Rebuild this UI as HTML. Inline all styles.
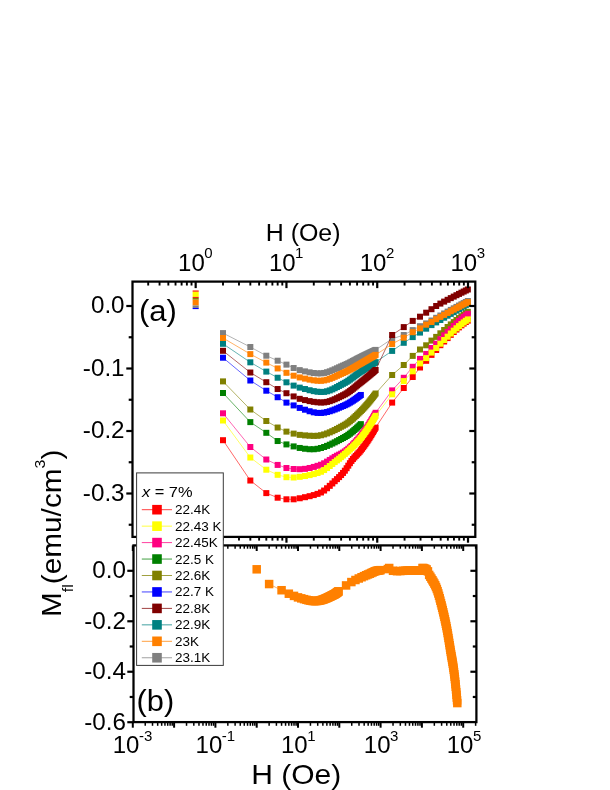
<!DOCTYPE html>
<html><head><meta charset="utf-8"><title>M_fl vs H</title>
<style>html,body{margin:0;padding:0;background:#fff;}svg{display:block;will-change:transform;}</style></head>
<body>
<svg width="610" height="790" viewBox="0 0 610 790">
<rect x="0" y="0" width="610" height="790" fill="#ffffff"/>
<g id="dataA">
<polyline points="223.0,357.7 250.3,380.5 266.3,390.7 277.7,397.2 286.4,402.6 293.6,405.4 299.7,407.9 305.0,409.7 309.6,411.2 313.8,412.3 317.5,412.9 321.0,413.0 324.1,412.6 327.0,412.0 329.8,411.3 332.3,410.4 334.7,409.5 337.0,408.6 339.1,407.7 341.1,406.8 343.0,406.0 344.9,405.2 346.6,404.4 348.3,403.5 349.9,402.6 351.4,401.6 352.9,400.7 354.4,399.7 355.8,398.7 357.1,397.8 358.4,396.8 359.6,395.9 360.8,395.0" fill="none" stroke="#0000ff" stroke-width="0.6"/>
<rect x="220.00" y="354.70" width="6.0" height="6.0" fill="#0000ff"/>
<rect x="247.33" y="377.52" width="6.0" height="6.0" fill="#0000ff"/>
<rect x="263.31" y="387.71" width="6.0" height="6.0" fill="#0000ff"/>
<rect x="274.65" y="394.23" width="6.0" height="6.0" fill="#0000ff"/>
<rect x="283.45" y="399.62" width="6.0" height="6.0" fill="#0000ff"/>
<rect x="290.64" y="402.42" width="6.0" height="6.0" fill="#0000ff"/>
<rect x="296.72" y="404.91" width="6.0" height="6.0" fill="#0000ff"/>
<rect x="301.98" y="406.71" width="6.0" height="6.0" fill="#0000ff"/>
<rect x="306.62" y="408.25" width="6.0" height="6.0" fill="#0000ff"/>
<rect x="310.78" y="409.33" width="6.0" height="6.0" fill="#0000ff"/>
<rect x="314.54" y="409.91" width="6.0" height="6.0" fill="#0000ff"/>
<rect x="317.97" y="409.96" width="6.0" height="6.0" fill="#0000ff"/>
<rect x="321.12" y="409.62" width="6.0" height="6.0" fill="#0000ff"/>
<rect x="324.04" y="409.01" width="6.0" height="6.0" fill="#0000ff"/>
<rect x="326.76" y="408.25" width="6.0" height="6.0" fill="#0000ff"/>
<rect x="329.31" y="407.40" width="6.0" height="6.0" fill="#0000ff"/>
<rect x="331.70" y="406.50" width="6.0" height="6.0" fill="#0000ff"/>
<rect x="333.95" y="405.59" width="6.0" height="6.0" fill="#0000ff"/>
<rect x="336.08" y="404.69" width="6.0" height="6.0" fill="#0000ff"/>
<rect x="338.11" y="403.83" width="6.0" height="6.0" fill="#0000ff"/>
<rect x="340.03" y="403.01" width="6.0" height="6.0" fill="#0000ff"/>
<rect x="341.86" y="402.23" width="6.0" height="6.0" fill="#0000ff"/>
<rect x="343.62" y="401.39" width="6.0" height="6.0" fill="#0000ff"/>
<rect x="345.29" y="400.51" width="6.0" height="6.0" fill="#0000ff"/>
<rect x="346.90" y="399.58" width="6.0" height="6.0" fill="#0000ff"/>
<rect x="348.45" y="398.64" width="6.0" height="6.0" fill="#0000ff"/>
<rect x="349.94" y="397.67" width="6.0" height="6.0" fill="#0000ff"/>
<rect x="351.37" y="396.71" width="6.0" height="6.0" fill="#0000ff"/>
<rect x="352.75" y="395.74" width="6.0" height="6.0" fill="#0000ff"/>
<rect x="354.09" y="394.78" width="6.0" height="6.0" fill="#0000ff"/>
<rect x="355.38" y="393.82" width="6.0" height="6.0" fill="#0000ff"/>
<rect x="356.64" y="392.89" width="6.0" height="6.0" fill="#0000ff"/>
<rect x="357.85" y="391.96" width="6.0" height="6.0" fill="#0000ff"/>
<polyline points="223.0,393.0 250.3,422.1 266.3,432.8 277.7,441.0 286.4,444.4 293.6,446.4 299.7,448.0 305.0,448.8 309.6,449.2 313.8,449.2 317.5,448.8 321.0,448.0 324.1,447.0 327.0,445.9 329.8,444.7 332.3,443.5 334.7,442.4 337.0,441.2 339.1,440.1 341.1,439.0 343.0,438.0 344.9,437.0 346.6,436.0 348.3,434.9 349.9,433.7 351.4,432.5 352.9,431.3 354.4,430.1 355.8,428.8 357.1,427.6 358.4,426.5 359.6,425.3 360.8,424.2" fill="none" stroke="#008000" stroke-width="0.6"/>
<rect x="220.00" y="390.00" width="6.0" height="6.0" fill="#008000"/>
<rect x="247.33" y="419.12" width="6.0" height="6.0" fill="#008000"/>
<rect x="263.31" y="429.81" width="6.0" height="6.0" fill="#008000"/>
<rect x="274.65" y="438.03" width="6.0" height="6.0" fill="#008000"/>
<rect x="283.45" y="441.42" width="6.0" height="6.0" fill="#008000"/>
<rect x="290.64" y="443.41" width="6.0" height="6.0" fill="#008000"/>
<rect x="296.72" y="444.95" width="6.0" height="6.0" fill="#008000"/>
<rect x="301.98" y="445.75" width="6.0" height="6.0" fill="#008000"/>
<rect x="306.62" y="446.23" width="6.0" height="6.0" fill="#008000"/>
<rect x="310.78" y="446.24" width="6.0" height="6.0" fill="#008000"/>
<rect x="314.54" y="445.78" width="6.0" height="6.0" fill="#008000"/>
<rect x="317.97" y="444.99" width="6.0" height="6.0" fill="#008000"/>
<rect x="321.12" y="443.99" width="6.0" height="6.0" fill="#008000"/>
<rect x="324.04" y="442.89" width="6.0" height="6.0" fill="#008000"/>
<rect x="326.76" y="441.72" width="6.0" height="6.0" fill="#008000"/>
<rect x="329.31" y="440.54" width="6.0" height="6.0" fill="#008000"/>
<rect x="331.70" y="439.36" width="6.0" height="6.0" fill="#008000"/>
<rect x="333.95" y="438.21" width="6.0" height="6.0" fill="#008000"/>
<rect x="336.08" y="437.09" width="6.0" height="6.0" fill="#008000"/>
<rect x="338.11" y="436.02" width="6.0" height="6.0" fill="#008000"/>
<rect x="340.03" y="435.01" width="6.0" height="6.0" fill="#008000"/>
<rect x="341.86" y="434.03" width="6.0" height="6.0" fill="#008000"/>
<rect x="343.62" y="432.98" width="6.0" height="6.0" fill="#008000"/>
<rect x="345.29" y="431.86" width="6.0" height="6.0" fill="#008000"/>
<rect x="346.90" y="430.69" width="6.0" height="6.0" fill="#008000"/>
<rect x="348.45" y="429.49" width="6.0" height="6.0" fill="#008000"/>
<rect x="349.94" y="428.28" width="6.0" height="6.0" fill="#008000"/>
<rect x="351.37" y="427.05" width="6.0" height="6.0" fill="#008000"/>
<rect x="352.75" y="425.84" width="6.0" height="6.0" fill="#008000"/>
<rect x="354.09" y="424.64" width="6.0" height="6.0" fill="#008000"/>
<rect x="355.38" y="423.45" width="6.0" height="6.0" fill="#008000"/>
<rect x="356.64" y="422.29" width="6.0" height="6.0" fill="#008000"/>
<rect x="357.85" y="421.15" width="6.0" height="6.0" fill="#008000"/>
<polyline points="223.0,381.4 250.3,409.5 266.3,421.0 277.7,427.5 286.4,431.6 293.6,433.6 299.7,434.9 305.0,435.4 309.6,435.7 313.8,435.9 317.5,435.8 321.0,435.2 324.1,434.4 327.0,433.4 329.8,432.4 332.3,431.2 334.7,430.1 337.0,428.9 339.1,427.8 341.1,426.7 343.0,425.7 344.9,424.7 346.6,423.6 348.3,422.4 349.9,421.2 351.4,419.9 352.9,418.6 354.4,417.3 355.8,416.0 357.1,414.7 358.4,413.5 359.6,412.2 360.8,411.1 362.0,409.9 363.2,408.7 364.3,407.5 365.4,406.3 366.4,405.1 367.4,403.9 368.4,402.7 369.4,401.5 370.4,400.3 371.3,399.2 372.2,398.0 373.1,396.9 373.9,395.7 374.8,394.6 375.6,393.5 392.1,375.0 403.8,365.0 412.7,355.9 420.0,349.5 426.2,345.3 431.5,340.6 436.2,336.9 440.4,333.3 444.2,330.0 447.6,327.0 450.8,324.4 453.7,322.1 456.5,320.0 459.0,318.1 461.4,316.3 463.7,314.7 465.8,313.2 467.9,311.8" fill="none" stroke="#808000" stroke-width="0.6"/>
<rect x="220.00" y="378.40" width="6.0" height="6.0" fill="#808000"/>
<rect x="247.33" y="406.52" width="6.0" height="6.0" fill="#808000"/>
<rect x="263.31" y="418.01" width="6.0" height="6.0" fill="#808000"/>
<rect x="274.65" y="424.53" width="6.0" height="6.0" fill="#808000"/>
<rect x="283.45" y="428.62" width="6.0" height="6.0" fill="#808000"/>
<rect x="290.64" y="430.61" width="6.0" height="6.0" fill="#808000"/>
<rect x="296.72" y="431.87" width="6.0" height="6.0" fill="#808000"/>
<rect x="301.98" y="432.40" width="6.0" height="6.0" fill="#808000"/>
<rect x="306.62" y="432.74" width="6.0" height="6.0" fill="#808000"/>
<rect x="310.78" y="432.89" width="6.0" height="6.0" fill="#808000"/>
<rect x="314.54" y="432.78" width="6.0" height="6.0" fill="#808000"/>
<rect x="317.97" y="432.25" width="6.0" height="6.0" fill="#808000"/>
<rect x="321.12" y="431.43" width="6.0" height="6.0" fill="#808000"/>
<rect x="324.04" y="430.45" width="6.0" height="6.0" fill="#808000"/>
<rect x="326.76" y="429.36" width="6.0" height="6.0" fill="#808000"/>
<rect x="329.31" y="428.23" width="6.0" height="6.0" fill="#808000"/>
<rect x="331.70" y="427.08" width="6.0" height="6.0" fill="#808000"/>
<rect x="333.95" y="425.93" width="6.0" height="6.0" fill="#808000"/>
<rect x="336.08" y="424.82" width="6.0" height="6.0" fill="#808000"/>
<rect x="338.11" y="423.74" width="6.0" height="6.0" fill="#808000"/>
<rect x="340.03" y="422.72" width="6.0" height="6.0" fill="#808000"/>
<rect x="341.86" y="421.72" width="6.0" height="6.0" fill="#808000"/>
<rect x="343.62" y="420.63" width="6.0" height="6.0" fill="#808000"/>
<rect x="345.29" y="419.45" width="6.0" height="6.0" fill="#808000"/>
<rect x="346.90" y="418.21" width="6.0" height="6.0" fill="#808000"/>
<rect x="348.45" y="416.93" width="6.0" height="6.0" fill="#808000"/>
<rect x="349.94" y="415.63" width="6.0" height="6.0" fill="#808000"/>
<rect x="351.37" y="414.32" width="6.0" height="6.0" fill="#808000"/>
<rect x="352.75" y="413.02" width="6.0" height="6.0" fill="#808000"/>
<rect x="354.09" y="411.74" width="6.0" height="6.0" fill="#808000"/>
<rect x="355.38" y="410.48" width="6.0" height="6.0" fill="#808000"/>
<rect x="356.64" y="409.25" width="6.0" height="6.0" fill="#808000"/>
<rect x="357.85" y="408.05" width="6.0" height="6.0" fill="#808000"/>
<rect x="359.03" y="406.87" width="6.0" height="6.0" fill="#808000"/>
<rect x="360.17" y="405.67" width="6.0" height="6.0" fill="#808000"/>
<rect x="361.28" y="404.47" width="6.0" height="6.0" fill="#808000"/>
<rect x="362.36" y="403.28" width="6.0" height="6.0" fill="#808000"/>
<rect x="363.41" y="402.08" width="6.0" height="6.0" fill="#808000"/>
<rect x="364.43" y="400.89" width="6.0" height="6.0" fill="#808000"/>
<rect x="365.43" y="399.70" width="6.0" height="6.0" fill="#808000"/>
<rect x="366.41" y="398.52" width="6.0" height="6.0" fill="#808000"/>
<rect x="367.36" y="397.35" width="6.0" height="6.0" fill="#808000"/>
<rect x="368.28" y="396.18" width="6.0" height="6.0" fill="#808000"/>
<rect x="369.19" y="395.02" width="6.0" height="6.0" fill="#808000"/>
<rect x="370.08" y="393.88" width="6.0" height="6.0" fill="#808000"/>
<rect x="370.94" y="392.74" width="6.0" height="6.0" fill="#808000"/>
<rect x="371.79" y="391.62" width="6.0" height="6.0" fill="#808000"/>
<rect x="372.62" y="390.50" width="6.0" height="6.0" fill="#808000"/>
<rect x="389.15" y="372.00" width="6.0" height="6.0" fill="#808000"/>
<rect x="400.76" y="362.00" width="6.0" height="6.0" fill="#808000"/>
<rect x="409.72" y="352.90" width="6.0" height="6.0" fill="#808000"/>
<rect x="417.01" y="346.50" width="6.0" height="6.0" fill="#808000"/>
<rect x="423.17" y="342.30" width="6.0" height="6.0" fill="#808000"/>
<rect x="428.49" y="337.60" width="6.0" height="6.0" fill="#808000"/>
<rect x="433.18" y="333.90" width="6.0" height="6.0" fill="#808000"/>
<rect x="437.37" y="330.30" width="6.0" height="6.0" fill="#808000"/>
<rect x="441.15" y="327.00" width="6.0" height="6.0" fill="#808000"/>
<rect x="444.61" y="324.00" width="6.0" height="6.0" fill="#808000"/>
<rect x="447.78" y="321.40" width="6.0" height="6.0" fill="#808000"/>
<rect x="450.72" y="319.11" width="6.0" height="6.0" fill="#808000"/>
<rect x="453.46" y="317.01" width="6.0" height="6.0" fill="#808000"/>
<rect x="456.01" y="315.08" width="6.0" height="6.0" fill="#808000"/>
<rect x="458.42" y="313.31" width="6.0" height="6.0" fill="#808000"/>
<rect x="460.68" y="311.68" width="6.0" height="6.0" fill="#808000"/>
<rect x="462.82" y="310.18" width="6.0" height="6.0" fill="#808000"/>
<rect x="464.85" y="308.80" width="6.0" height="6.0" fill="#808000"/>
<polyline points="223.0,343.8 250.3,362.3 266.3,371.6 277.7,377.7 286.4,382.3 293.6,385.6 299.7,387.6 305.0,389.0 309.6,390.2 313.8,391.1 317.5,391.7 321.0,392.0 324.1,391.9 327.0,391.3 329.8,390.4 332.3,389.4 334.7,388.2 337.0,387.1 339.1,385.9 341.1,384.8 343.0,383.8 344.9,382.8 346.6,381.8 348.3,380.7 349.9,379.6 351.4,378.5 352.9,377.4 354.4,376.3 355.8,375.3 357.1,374.3 358.4,373.3 359.6,372.5 360.8,371.6 362.0,370.9 363.2,370.1 364.3,369.4 365.4,368.7 366.4,368.0 367.4,367.3 368.4,366.7 369.4,366.1 370.4,365.5 371.3,364.9 372.2,364.3 373.1,363.7 373.9,363.2 374.8,362.7 375.6,362.2 392.1,350.9 403.8,342.8 412.7,337.1 420.0,332.6 426.2,328.7 431.5,325.1 436.2,322.4 440.4,320.0 444.2,317.7 447.6,315.7 450.8,313.9 453.7,312.2 456.5,310.6 459.0,309.1 461.4,307.6 463.7,306.3 465.8,305.0 467.9,303.7" fill="none" stroke="#008080" stroke-width="0.6"/>
<rect x="220.00" y="340.80" width="6.0" height="6.0" fill="#008080"/>
<rect x="247.33" y="359.32" width="6.0" height="6.0" fill="#008080"/>
<rect x="263.31" y="368.61" width="6.0" height="6.0" fill="#008080"/>
<rect x="274.65" y="374.73" width="6.0" height="6.0" fill="#008080"/>
<rect x="283.45" y="379.32" width="6.0" height="6.0" fill="#008080"/>
<rect x="290.64" y="382.61" width="6.0" height="6.0" fill="#008080"/>
<rect x="296.72" y="384.63" width="6.0" height="6.0" fill="#008080"/>
<rect x="301.98" y="386.03" width="6.0" height="6.0" fill="#008080"/>
<rect x="306.62" y="387.23" width="6.0" height="6.0" fill="#008080"/>
<rect x="310.78" y="388.14" width="6.0" height="6.0" fill="#008080"/>
<rect x="314.54" y="388.73" width="6.0" height="6.0" fill="#008080"/>
<rect x="317.97" y="388.98" width="6.0" height="6.0" fill="#008080"/>
<rect x="321.12" y="388.87" width="6.0" height="6.0" fill="#008080"/>
<rect x="324.04" y="388.29" width="6.0" height="6.0" fill="#008080"/>
<rect x="326.76" y="387.42" width="6.0" height="6.0" fill="#008080"/>
<rect x="329.31" y="386.37" width="6.0" height="6.0" fill="#008080"/>
<rect x="331.70" y="385.23" width="6.0" height="6.0" fill="#008080"/>
<rect x="333.95" y="384.07" width="6.0" height="6.0" fill="#008080"/>
<rect x="336.08" y="382.92" width="6.0" height="6.0" fill="#008080"/>
<rect x="338.11" y="381.83" width="6.0" height="6.0" fill="#008080"/>
<rect x="340.03" y="380.80" width="6.0" height="6.0" fill="#008080"/>
<rect x="341.86" y="379.84" width="6.0" height="6.0" fill="#008080"/>
<rect x="343.62" y="378.82" width="6.0" height="6.0" fill="#008080"/>
<rect x="345.29" y="377.74" width="6.0" height="6.0" fill="#008080"/>
<rect x="346.90" y="376.62" width="6.0" height="6.0" fill="#008080"/>
<rect x="348.45" y="375.50" width="6.0" height="6.0" fill="#008080"/>
<rect x="349.94" y="374.40" width="6.0" height="6.0" fill="#008080"/>
<rect x="351.37" y="373.32" width="6.0" height="6.0" fill="#008080"/>
<rect x="352.75" y="372.27" width="6.0" height="6.0" fill="#008080"/>
<rect x="354.09" y="371.28" width="6.0" height="6.0" fill="#008080"/>
<rect x="355.38" y="370.34" width="6.0" height="6.0" fill="#008080"/>
<rect x="356.64" y="369.46" width="6.0" height="6.0" fill="#008080"/>
<rect x="357.85" y="368.63" width="6.0" height="6.0" fill="#008080"/>
<rect x="359.03" y="367.85" width="6.0" height="6.0" fill="#008080"/>
<rect x="360.17" y="367.10" width="6.0" height="6.0" fill="#008080"/>
<rect x="361.28" y="366.37" width="6.0" height="6.0" fill="#008080"/>
<rect x="362.36" y="365.67" width="6.0" height="6.0" fill="#008080"/>
<rect x="363.41" y="364.99" width="6.0" height="6.0" fill="#008080"/>
<rect x="364.43" y="364.32" width="6.0" height="6.0" fill="#008080"/>
<rect x="365.43" y="363.68" width="6.0" height="6.0" fill="#008080"/>
<rect x="366.41" y="363.06" width="6.0" height="6.0" fill="#008080"/>
<rect x="367.36" y="362.46" width="6.0" height="6.0" fill="#008080"/>
<rect x="368.28" y="361.87" width="6.0" height="6.0" fill="#008080"/>
<rect x="369.19" y="361.30" width="6.0" height="6.0" fill="#008080"/>
<rect x="370.08" y="360.74" width="6.0" height="6.0" fill="#008080"/>
<rect x="370.94" y="360.20" width="6.0" height="6.0" fill="#008080"/>
<rect x="371.79" y="359.68" width="6.0" height="6.0" fill="#008080"/>
<rect x="372.62" y="359.16" width="6.0" height="6.0" fill="#008080"/>
<rect x="389.15" y="347.90" width="6.0" height="6.0" fill="#008080"/>
<rect x="400.76" y="339.80" width="6.0" height="6.0" fill="#008080"/>
<rect x="409.72" y="334.10" width="6.0" height="6.0" fill="#008080"/>
<rect x="417.01" y="329.60" width="6.0" height="6.0" fill="#008080"/>
<rect x="423.17" y="325.70" width="6.0" height="6.0" fill="#008080"/>
<rect x="428.49" y="322.10" width="6.0" height="6.0" fill="#008080"/>
<rect x="433.18" y="319.40" width="6.0" height="6.0" fill="#008080"/>
<rect x="437.37" y="317.00" width="6.0" height="6.0" fill="#008080"/>
<rect x="441.15" y="314.70" width="6.0" height="6.0" fill="#008080"/>
<rect x="444.61" y="312.70" width="6.0" height="6.0" fill="#008080"/>
<rect x="447.78" y="310.90" width="6.0" height="6.0" fill="#008080"/>
<rect x="450.72" y="309.19" width="6.0" height="6.0" fill="#008080"/>
<rect x="453.46" y="307.59" width="6.0" height="6.0" fill="#008080"/>
<rect x="456.01" y="306.08" width="6.0" height="6.0" fill="#008080"/>
<rect x="458.42" y="304.64" width="6.0" height="6.0" fill="#008080"/>
<rect x="460.68" y="303.27" width="6.0" height="6.0" fill="#008080"/>
<rect x="462.82" y="301.96" width="6.0" height="6.0" fill="#008080"/>
<rect x="464.85" y="300.70" width="6.0" height="6.0" fill="#008080"/>
<polyline points="223.0,333.1 250.3,347.0 266.3,355.7 277.7,360.7 286.4,364.6 293.6,368.0 299.7,370.1 305.0,371.4 309.6,372.3 313.8,373.0 317.5,373.3 321.0,373.4 324.1,372.9 327.0,372.2 329.8,371.3 332.3,370.3 334.7,369.3 337.0,368.3 339.1,367.3 341.1,366.4 343.0,365.6 344.9,364.8 346.6,364.1 348.3,363.3 349.9,362.5 351.4,361.7 352.9,360.9 354.4,360.2 355.8,359.5 357.1,358.8 358.4,358.1 359.6,357.5 360.8,356.9 362.0,356.3 363.2,355.8 364.3,355.2 365.4,354.7 366.4,354.2 367.4,353.7 368.4,353.3 369.4,352.8 370.4,352.4 371.3,351.9 372.2,351.5 373.1,351.1 373.9,350.7 374.8,350.3 375.6,349.9 392.1,338.8 403.8,335.0 412.7,330.1 420.0,326.2 426.2,323.4 431.5,320.5 436.2,317.8 440.4,315.5 444.2,313.5 447.6,311.6 450.8,309.9 453.7,308.3 456.5,306.9 459.0,305.5 461.4,304.3 463.7,303.1 465.8,302.0 467.9,301.0" fill="none" stroke="#808080" stroke-width="0.6"/>
<rect x="220.00" y="330.10" width="6.0" height="6.0" fill="#808080"/>
<rect x="247.33" y="344.01" width="6.0" height="6.0" fill="#808080"/>
<rect x="263.31" y="352.71" width="6.0" height="6.0" fill="#808080"/>
<rect x="274.65" y="357.72" width="6.0" height="6.0" fill="#808080"/>
<rect x="283.45" y="361.62" width="6.0" height="6.0" fill="#808080"/>
<rect x="290.64" y="365.02" width="6.0" height="6.0" fill="#808080"/>
<rect x="296.72" y="367.13" width="6.0" height="6.0" fill="#808080"/>
<rect x="301.98" y="368.37" width="6.0" height="6.0" fill="#808080"/>
<rect x="306.62" y="369.34" width="6.0" height="6.0" fill="#808080"/>
<rect x="310.78" y="370.01" width="6.0" height="6.0" fill="#808080"/>
<rect x="314.54" y="370.35" width="6.0" height="6.0" fill="#808080"/>
<rect x="317.97" y="370.36" width="6.0" height="6.0" fill="#808080"/>
<rect x="321.12" y="369.94" width="6.0" height="6.0" fill="#808080"/>
<rect x="324.04" y="369.22" width="6.0" height="6.0" fill="#808080"/>
<rect x="326.76" y="368.32" width="6.0" height="6.0" fill="#808080"/>
<rect x="329.31" y="367.33" width="6.0" height="6.0" fill="#808080"/>
<rect x="331.70" y="366.31" width="6.0" height="6.0" fill="#808080"/>
<rect x="333.95" y="365.30" width="6.0" height="6.0" fill="#808080"/>
<rect x="336.08" y="364.33" width="6.0" height="6.0" fill="#808080"/>
<rect x="338.11" y="363.43" width="6.0" height="6.0" fill="#808080"/>
<rect x="340.03" y="362.60" width="6.0" height="6.0" fill="#808080"/>
<rect x="341.86" y="361.84" width="6.0" height="6.0" fill="#808080"/>
<rect x="343.62" y="361.07" width="6.0" height="6.0" fill="#808080"/>
<rect x="345.29" y="360.28" width="6.0" height="6.0" fill="#808080"/>
<rect x="346.90" y="359.49" width="6.0" height="6.0" fill="#808080"/>
<rect x="348.45" y="358.70" width="6.0" height="6.0" fill="#808080"/>
<rect x="349.94" y="357.93" width="6.0" height="6.0" fill="#808080"/>
<rect x="351.37" y="357.18" width="6.0" height="6.0" fill="#808080"/>
<rect x="352.75" y="356.46" width="6.0" height="6.0" fill="#808080"/>
<rect x="354.09" y="355.76" width="6.0" height="6.0" fill="#808080"/>
<rect x="355.38" y="355.10" width="6.0" height="6.0" fill="#808080"/>
<rect x="356.64" y="354.47" width="6.0" height="6.0" fill="#808080"/>
<rect x="357.85" y="353.88" width="6.0" height="6.0" fill="#808080"/>
<rect x="359.03" y="353.31" width="6.0" height="6.0" fill="#808080"/>
<rect x="360.17" y="352.76" width="6.0" height="6.0" fill="#808080"/>
<rect x="361.28" y="352.23" width="6.0" height="6.0" fill="#808080"/>
<rect x="362.36" y="351.72" width="6.0" height="6.0" fill="#808080"/>
<rect x="363.41" y="351.22" width="6.0" height="6.0" fill="#808080"/>
<rect x="364.43" y="350.73" width="6.0" height="6.0" fill="#808080"/>
<rect x="365.43" y="350.26" width="6.0" height="6.0" fill="#808080"/>
<rect x="366.41" y="349.80" width="6.0" height="6.0" fill="#808080"/>
<rect x="367.36" y="349.35" width="6.0" height="6.0" fill="#808080"/>
<rect x="368.28" y="348.92" width="6.0" height="6.0" fill="#808080"/>
<rect x="369.19" y="348.49" width="6.0" height="6.0" fill="#808080"/>
<rect x="370.08" y="348.08" width="6.0" height="6.0" fill="#808080"/>
<rect x="370.94" y="347.68" width="6.0" height="6.0" fill="#808080"/>
<rect x="371.79" y="347.28" width="6.0" height="6.0" fill="#808080"/>
<rect x="372.62" y="346.90" width="6.0" height="6.0" fill="#808080"/>
<rect x="389.15" y="335.80" width="6.0" height="6.0" fill="#808080"/>
<rect x="400.76" y="332.00" width="6.0" height="6.0" fill="#808080"/>
<rect x="409.72" y="327.10" width="6.0" height="6.0" fill="#808080"/>
<rect x="417.01" y="323.20" width="6.0" height="6.0" fill="#808080"/>
<rect x="423.17" y="320.40" width="6.0" height="6.0" fill="#808080"/>
<rect x="428.49" y="317.50" width="6.0" height="6.0" fill="#808080"/>
<rect x="433.18" y="314.80" width="6.0" height="6.0" fill="#808080"/>
<rect x="437.37" y="312.50" width="6.0" height="6.0" fill="#808080"/>
<rect x="441.15" y="310.50" width="6.0" height="6.0" fill="#808080"/>
<rect x="444.61" y="308.60" width="6.0" height="6.0" fill="#808080"/>
<rect x="447.78" y="306.89" width="6.0" height="6.0" fill="#808080"/>
<rect x="450.72" y="305.32" width="6.0" height="6.0" fill="#808080"/>
<rect x="453.46" y="303.87" width="6.0" height="6.0" fill="#808080"/>
<rect x="456.01" y="302.53" width="6.0" height="6.0" fill="#808080"/>
<rect x="458.42" y="301.28" width="6.0" height="6.0" fill="#808080"/>
<rect x="460.68" y="300.11" width="6.0" height="6.0" fill="#808080"/>
<rect x="462.82" y="299.02" width="6.0" height="6.0" fill="#808080"/>
<rect x="464.85" y="298.00" width="6.0" height="6.0" fill="#808080"/>
<polyline points="223.0,350.8 250.3,372.5 266.3,382.2 277.7,389.0 286.4,393.2 293.6,396.4 299.7,398.8 305.0,400.1 309.6,401.1 313.8,401.8 317.5,402.3 321.0,402.5 324.1,402.4 327.0,401.9 329.8,401.2 332.3,400.3 334.7,399.3 337.0,398.2 339.1,397.2 341.1,396.2 343.0,395.3 344.9,394.4 346.6,393.4 348.3,392.3 349.9,391.1 351.4,389.9 352.9,388.8 354.4,387.6 355.8,386.5 357.1,385.3 358.4,384.3 359.6,383.3 360.8,382.3 362.0,381.4 363.2,380.5 364.3,379.6 365.4,378.7 366.4,377.8 367.4,377.0 368.4,376.2 369.4,375.3 370.4,374.5 371.3,373.8 372.2,373.0 373.1,372.2 373.9,371.5 374.8,370.7 375.6,370.0 392.1,335.0 403.8,327.1 412.7,320.9 420.0,316.7 426.2,312.7 431.5,309.2 436.2,306.0 440.4,303.6 444.2,301.6 447.6,299.8 450.8,298.1 453.7,296.6 456.5,295.2 459.0,293.9 461.4,292.7 463.7,291.6 465.8,290.5 467.9,289.5" fill="none" stroke="#800000" stroke-width="0.6"/>
<rect x="220.00" y="347.80" width="6.0" height="6.0" fill="#800000"/>
<rect x="247.33" y="369.52" width="6.0" height="6.0" fill="#800000"/>
<rect x="263.31" y="379.21" width="6.0" height="6.0" fill="#800000"/>
<rect x="274.65" y="386.03" width="6.0" height="6.0" fill="#800000"/>
<rect x="283.45" y="390.22" width="6.0" height="6.0" fill="#800000"/>
<rect x="290.64" y="393.42" width="6.0" height="6.0" fill="#800000"/>
<rect x="296.72" y="395.83" width="6.0" height="6.0" fill="#800000"/>
<rect x="301.98" y="397.11" width="6.0" height="6.0" fill="#800000"/>
<rect x="306.62" y="398.12" width="6.0" height="6.0" fill="#800000"/>
<rect x="310.78" y="398.85" width="6.0" height="6.0" fill="#800000"/>
<rect x="314.54" y="399.30" width="6.0" height="6.0" fill="#800000"/>
<rect x="317.97" y="399.49" width="6.0" height="6.0" fill="#800000"/>
<rect x="321.12" y="399.39" width="6.0" height="6.0" fill="#800000"/>
<rect x="324.04" y="398.90" width="6.0" height="6.0" fill="#800000"/>
<rect x="326.76" y="398.16" width="6.0" height="6.0" fill="#800000"/>
<rect x="329.31" y="397.25" width="6.0" height="6.0" fill="#800000"/>
<rect x="331.70" y="396.26" width="6.0" height="6.0" fill="#800000"/>
<rect x="333.95" y="395.24" width="6.0" height="6.0" fill="#800000"/>
<rect x="336.08" y="394.22" width="6.0" height="6.0" fill="#800000"/>
<rect x="338.11" y="393.22" width="6.0" height="6.0" fill="#800000"/>
<rect x="340.03" y="392.27" width="6.0" height="6.0" fill="#800000"/>
<rect x="341.86" y="391.36" width="6.0" height="6.0" fill="#800000"/>
<rect x="343.62" y="390.36" width="6.0" height="6.0" fill="#800000"/>
<rect x="345.29" y="389.26" width="6.0" height="6.0" fill="#800000"/>
<rect x="346.90" y="388.12" width="6.0" height="6.0" fill="#800000"/>
<rect x="348.45" y="386.94" width="6.0" height="6.0" fill="#800000"/>
<rect x="349.94" y="385.76" width="6.0" height="6.0" fill="#800000"/>
<rect x="351.37" y="384.60" width="6.0" height="6.0" fill="#800000"/>
<rect x="352.75" y="383.45" width="6.0" height="6.0" fill="#800000"/>
<rect x="354.09" y="382.35" width="6.0" height="6.0" fill="#800000"/>
<rect x="355.38" y="381.28" width="6.0" height="6.0" fill="#800000"/>
<rect x="356.64" y="380.27" width="6.0" height="6.0" fill="#800000"/>
<rect x="357.85" y="379.31" width="6.0" height="6.0" fill="#800000"/>
<rect x="359.03" y="378.38" width="6.0" height="6.0" fill="#800000"/>
<rect x="360.17" y="377.46" width="6.0" height="6.0" fill="#800000"/>
<rect x="361.28" y="376.57" width="6.0" height="6.0" fill="#800000"/>
<rect x="362.36" y="375.69" width="6.0" height="6.0" fill="#800000"/>
<rect x="363.41" y="374.83" width="6.0" height="6.0" fill="#800000"/>
<rect x="364.43" y="373.98" width="6.0" height="6.0" fill="#800000"/>
<rect x="365.43" y="373.15" width="6.0" height="6.0" fill="#800000"/>
<rect x="366.41" y="372.34" width="6.0" height="6.0" fill="#800000"/>
<rect x="367.36" y="371.54" width="6.0" height="6.0" fill="#800000"/>
<rect x="368.28" y="370.75" width="6.0" height="6.0" fill="#800000"/>
<rect x="369.19" y="369.98" width="6.0" height="6.0" fill="#800000"/>
<rect x="370.08" y="369.22" width="6.0" height="6.0" fill="#800000"/>
<rect x="370.94" y="368.47" width="6.0" height="6.0" fill="#800000"/>
<rect x="371.79" y="367.73" width="6.0" height="6.0" fill="#800000"/>
<rect x="372.62" y="367.01" width="6.0" height="6.0" fill="#800000"/>
<rect x="389.15" y="332.00" width="6.0" height="6.0" fill="#800000"/>
<rect x="400.76" y="324.10" width="6.0" height="6.0" fill="#800000"/>
<rect x="409.72" y="317.90" width="6.0" height="6.0" fill="#800000"/>
<rect x="417.01" y="313.70" width="6.0" height="6.0" fill="#800000"/>
<rect x="423.17" y="309.70" width="6.0" height="6.0" fill="#800000"/>
<rect x="428.49" y="306.20" width="6.0" height="6.0" fill="#800000"/>
<rect x="433.18" y="303.00" width="6.0" height="6.0" fill="#800000"/>
<rect x="437.37" y="300.59" width="6.0" height="6.0" fill="#800000"/>
<rect x="441.15" y="298.59" width="6.0" height="6.0" fill="#800000"/>
<rect x="444.61" y="296.80" width="6.0" height="6.0" fill="#800000"/>
<rect x="447.78" y="295.13" width="6.0" height="6.0" fill="#800000"/>
<rect x="450.72" y="293.61" width="6.0" height="6.0" fill="#800000"/>
<rect x="453.46" y="292.20" width="6.0" height="6.0" fill="#800000"/>
<rect x="456.01" y="290.90" width="6.0" height="6.0" fill="#800000"/>
<rect x="458.42" y="289.68" width="6.0" height="6.0" fill="#800000"/>
<rect x="460.68" y="288.55" width="6.0" height="6.0" fill="#800000"/>
<rect x="462.82" y="287.49" width="6.0" height="6.0" fill="#800000"/>
<rect x="464.85" y="286.50" width="6.0" height="6.0" fill="#800000"/>
<polyline points="223.0,338.0 250.3,354.1 266.3,362.6 277.7,368.4 286.4,372.8 293.6,375.7 299.7,377.4 305.0,378.6 309.6,379.6 313.8,380.3 317.5,380.7 321.0,380.8 324.1,380.4 327.0,379.7 329.8,378.8 332.3,377.8 334.7,376.8 337.0,375.8 339.1,374.8 341.1,373.9 343.0,373.0 344.9,372.2 346.6,371.4 348.3,370.6 349.9,369.7 351.4,368.9 352.9,368.0 354.4,367.2 355.8,366.4 357.1,365.6 358.4,364.9 359.6,364.1 360.8,363.5 362.0,362.8 363.2,362.1 364.3,361.5 365.4,360.9 366.4,360.3 367.4,359.7 368.4,359.1 369.4,358.6 370.4,358.0 371.3,357.4 372.2,356.9 373.1,356.4 373.9,355.9 374.8,355.4 375.6,354.9 392.1,344.0 403.8,337.7 412.7,332.2 420.0,328.4 426.2,324.7 431.5,322.0 436.2,319.2 440.4,316.9 444.2,314.9 447.6,313.0 450.8,311.3 453.7,309.7 456.5,308.2 459.0,306.8 461.4,305.5 463.7,304.3 465.8,303.2 467.9,302.1" fill="none" stroke="#ff8000" stroke-width="0.6"/>
<rect x="220.00" y="335.00" width="6.0" height="6.0" fill="#ff8000"/>
<rect x="247.33" y="351.11" width="6.0" height="6.0" fill="#ff8000"/>
<rect x="263.31" y="359.61" width="6.0" height="6.0" fill="#ff8000"/>
<rect x="274.65" y="365.43" width="6.0" height="6.0" fill="#ff8000"/>
<rect x="283.45" y="369.82" width="6.0" height="6.0" fill="#ff8000"/>
<rect x="290.64" y="372.71" width="6.0" height="6.0" fill="#ff8000"/>
<rect x="296.72" y="374.44" width="6.0" height="6.0" fill="#ff8000"/>
<rect x="301.98" y="375.62" width="6.0" height="6.0" fill="#ff8000"/>
<rect x="306.62" y="376.62" width="6.0" height="6.0" fill="#ff8000"/>
<rect x="310.78" y="377.33" width="6.0" height="6.0" fill="#ff8000"/>
<rect x="314.54" y="377.72" width="6.0" height="6.0" fill="#ff8000"/>
<rect x="317.97" y="377.78" width="6.0" height="6.0" fill="#ff8000"/>
<rect x="321.12" y="377.41" width="6.0" height="6.0" fill="#ff8000"/>
<rect x="324.04" y="376.72" width="6.0" height="6.0" fill="#ff8000"/>
<rect x="326.76" y="375.83" width="6.0" height="6.0" fill="#ff8000"/>
<rect x="329.31" y="374.85" width="6.0" height="6.0" fill="#ff8000"/>
<rect x="331.70" y="373.82" width="6.0" height="6.0" fill="#ff8000"/>
<rect x="333.95" y="372.80" width="6.0" height="6.0" fill="#ff8000"/>
<rect x="336.08" y="371.81" width="6.0" height="6.0" fill="#ff8000"/>
<rect x="338.11" y="370.88" width="6.0" height="6.0" fill="#ff8000"/>
<rect x="340.03" y="370.02" width="6.0" height="6.0" fill="#ff8000"/>
<rect x="341.86" y="369.22" width="6.0" height="6.0" fill="#ff8000"/>
<rect x="343.62" y="368.41" width="6.0" height="6.0" fill="#ff8000"/>
<rect x="345.29" y="367.56" width="6.0" height="6.0" fill="#ff8000"/>
<rect x="346.90" y="366.71" width="6.0" height="6.0" fill="#ff8000"/>
<rect x="348.45" y="365.86" width="6.0" height="6.0" fill="#ff8000"/>
<rect x="349.94" y="365.02" width="6.0" height="6.0" fill="#ff8000"/>
<rect x="351.37" y="364.20" width="6.0" height="6.0" fill="#ff8000"/>
<rect x="352.75" y="363.39" width="6.0" height="6.0" fill="#ff8000"/>
<rect x="354.09" y="362.61" width="6.0" height="6.0" fill="#ff8000"/>
<rect x="355.38" y="361.86" width="6.0" height="6.0" fill="#ff8000"/>
<rect x="356.64" y="361.15" width="6.0" height="6.0" fill="#ff8000"/>
<rect x="357.85" y="360.46" width="6.0" height="6.0" fill="#ff8000"/>
<rect x="359.03" y="359.80" width="6.0" height="6.0" fill="#ff8000"/>
<rect x="360.17" y="359.15" width="6.0" height="6.0" fill="#ff8000"/>
<rect x="361.28" y="358.52" width="6.0" height="6.0" fill="#ff8000"/>
<rect x="362.36" y="357.90" width="6.0" height="6.0" fill="#ff8000"/>
<rect x="363.41" y="357.29" width="6.0" height="6.0" fill="#ff8000"/>
<rect x="364.43" y="356.70" width="6.0" height="6.0" fill="#ff8000"/>
<rect x="365.43" y="356.12" width="6.0" height="6.0" fill="#ff8000"/>
<rect x="366.41" y="355.55" width="6.0" height="6.0" fill="#ff8000"/>
<rect x="367.36" y="354.99" width="6.0" height="6.0" fill="#ff8000"/>
<rect x="368.28" y="354.45" width="6.0" height="6.0" fill="#ff8000"/>
<rect x="369.19" y="353.91" width="6.0" height="6.0" fill="#ff8000"/>
<rect x="370.08" y="353.39" width="6.0" height="6.0" fill="#ff8000"/>
<rect x="370.94" y="352.87" width="6.0" height="6.0" fill="#ff8000"/>
<rect x="371.79" y="352.36" width="6.0" height="6.0" fill="#ff8000"/>
<rect x="372.62" y="351.87" width="6.0" height="6.0" fill="#ff8000"/>
<rect x="389.15" y="341.00" width="6.0" height="6.0" fill="#ff8000"/>
<rect x="400.76" y="334.70" width="6.0" height="6.0" fill="#ff8000"/>
<rect x="409.72" y="329.20" width="6.0" height="6.0" fill="#ff8000"/>
<rect x="417.01" y="325.40" width="6.0" height="6.0" fill="#ff8000"/>
<rect x="423.17" y="321.70" width="6.0" height="6.0" fill="#ff8000"/>
<rect x="428.49" y="319.00" width="6.0" height="6.0" fill="#ff8000"/>
<rect x="433.18" y="316.20" width="6.0" height="6.0" fill="#ff8000"/>
<rect x="437.37" y="313.90" width="6.0" height="6.0" fill="#ff8000"/>
<rect x="441.15" y="311.90" width="6.0" height="6.0" fill="#ff8000"/>
<rect x="444.61" y="310.00" width="6.0" height="6.0" fill="#ff8000"/>
<rect x="447.78" y="308.27" width="6.0" height="6.0" fill="#ff8000"/>
<rect x="450.72" y="306.67" width="6.0" height="6.0" fill="#ff8000"/>
<rect x="453.46" y="305.19" width="6.0" height="6.0" fill="#ff8000"/>
<rect x="456.01" y="303.81" width="6.0" height="6.0" fill="#ff8000"/>
<rect x="458.42" y="302.53" width="6.0" height="6.0" fill="#ff8000"/>
<rect x="460.68" y="301.31" width="6.0" height="6.0" fill="#ff8000"/>
<rect x="462.82" y="300.18" width="6.0" height="6.0" fill="#ff8000"/>
<rect x="464.85" y="299.10" width="6.0" height="6.0" fill="#ff8000"/>
<polyline points="223.0,413.3 250.3,447.0 266.3,459.5 277.7,464.9 286.4,468.0 293.6,469.0 299.7,469.2 305.0,468.8 309.6,468.0 313.8,466.9 317.5,465.8 321.0,464.7 324.1,463.3 327.0,461.6 329.8,460.0 332.3,458.4 334.7,456.9 337.0,455.7 339.1,454.7 341.1,453.7 343.0,452.6 344.9,451.4 346.6,450.1 348.3,448.8 349.9,447.4 351.4,445.9 352.9,444.5 354.4,443.0 355.8,441.5 357.1,440.1 358.4,438.6 359.6,437.1 360.8,435.7 362.0,434.2 363.2,432.8 364.3,431.2 365.4,429.7 366.4,428.2 367.4,426.6 368.4,425.1 369.4,423.5 370.4,422.0 371.3,420.4 372.2,418.9 373.1,417.3 373.9,415.8 374.8,414.3 375.6,412.8 392.1,390.4 403.8,377.8 412.7,366.8 420.0,358.9 426.2,353.9 431.5,348.0 436.2,343.7 440.4,339.2 444.2,335.3 447.6,331.9 450.8,329.2 453.7,326.0 456.5,323.3 459.0,321.0 461.4,318.8 463.7,317.0 465.8,315.3 467.9,313.9" fill="none" stroke="#ff0080" stroke-width="0.6"/>
<rect x="220.00" y="410.30" width="6.0" height="6.0" fill="#ff0080"/>
<rect x="247.33" y="444.02" width="6.0" height="6.0" fill="#ff0080"/>
<rect x="263.31" y="456.51" width="6.0" height="6.0" fill="#ff0080"/>
<rect x="274.65" y="461.92" width="6.0" height="6.0" fill="#ff0080"/>
<rect x="283.45" y="465.01" width="6.0" height="6.0" fill="#ff0080"/>
<rect x="290.64" y="466.00" width="6.0" height="6.0" fill="#ff0080"/>
<rect x="296.72" y="466.20" width="6.0" height="6.0" fill="#ff0080"/>
<rect x="301.98" y="465.84" width="6.0" height="6.0" fill="#ff0080"/>
<rect x="306.62" y="464.98" width="6.0" height="6.0" fill="#ff0080"/>
<rect x="310.78" y="463.92" width="6.0" height="6.0" fill="#ff0080"/>
<rect x="314.54" y="462.82" width="6.0" height="6.0" fill="#ff0080"/>
<rect x="317.97" y="461.73" width="6.0" height="6.0" fill="#ff0080"/>
<rect x="321.12" y="460.29" width="6.0" height="6.0" fill="#ff0080"/>
<rect x="324.04" y="458.64" width="6.0" height="6.0" fill="#ff0080"/>
<rect x="326.76" y="456.95" width="6.0" height="6.0" fill="#ff0080"/>
<rect x="329.31" y="455.36" width="6.0" height="6.0" fill="#ff0080"/>
<rect x="331.70" y="453.92" width="6.0" height="6.0" fill="#ff0080"/>
<rect x="333.95" y="452.71" width="6.0" height="6.0" fill="#ff0080"/>
<rect x="336.08" y="451.67" width="6.0" height="6.0" fill="#ff0080"/>
<rect x="338.11" y="450.67" width="6.0" height="6.0" fill="#ff0080"/>
<rect x="340.03" y="449.61" width="6.0" height="6.0" fill="#ff0080"/>
<rect x="341.86" y="448.42" width="6.0" height="6.0" fill="#ff0080"/>
<rect x="343.62" y="447.13" width="6.0" height="6.0" fill="#ff0080"/>
<rect x="345.29" y="445.77" width="6.0" height="6.0" fill="#ff0080"/>
<rect x="346.90" y="444.37" width="6.0" height="6.0" fill="#ff0080"/>
<rect x="348.45" y="442.93" width="6.0" height="6.0" fill="#ff0080"/>
<rect x="349.94" y="441.47" width="6.0" height="6.0" fill="#ff0080"/>
<rect x="351.37" y="440.00" width="6.0" height="6.0" fill="#ff0080"/>
<rect x="352.75" y="438.53" width="6.0" height="6.0" fill="#ff0080"/>
<rect x="354.09" y="437.06" width="6.0" height="6.0" fill="#ff0080"/>
<rect x="355.38" y="435.59" width="6.0" height="6.0" fill="#ff0080"/>
<rect x="356.64" y="434.14" width="6.0" height="6.0" fill="#ff0080"/>
<rect x="357.85" y="432.70" width="6.0" height="6.0" fill="#ff0080"/>
<rect x="359.03" y="431.24" width="6.0" height="6.0" fill="#ff0080"/>
<rect x="360.17" y="429.76" width="6.0" height="6.0" fill="#ff0080"/>
<rect x="361.28" y="428.25" width="6.0" height="6.0" fill="#ff0080"/>
<rect x="362.36" y="426.72" width="6.0" height="6.0" fill="#ff0080"/>
<rect x="363.41" y="425.17" width="6.0" height="6.0" fill="#ff0080"/>
<rect x="364.43" y="423.63" width="6.0" height="6.0" fill="#ff0080"/>
<rect x="365.43" y="422.07" width="6.0" height="6.0" fill="#ff0080"/>
<rect x="366.41" y="420.52" width="6.0" height="6.0" fill="#ff0080"/>
<rect x="367.36" y="418.96" width="6.0" height="6.0" fill="#ff0080"/>
<rect x="368.28" y="417.41" width="6.0" height="6.0" fill="#ff0080"/>
<rect x="369.19" y="415.87" width="6.0" height="6.0" fill="#ff0080"/>
<rect x="370.08" y="414.34" width="6.0" height="6.0" fill="#ff0080"/>
<rect x="370.94" y="412.81" width="6.0" height="6.0" fill="#ff0080"/>
<rect x="371.79" y="411.30" width="6.0" height="6.0" fill="#ff0080"/>
<rect x="372.62" y="409.80" width="6.0" height="6.0" fill="#ff0080"/>
<rect x="389.15" y="387.40" width="6.0" height="6.0" fill="#ff0080"/>
<rect x="400.76" y="374.80" width="6.0" height="6.0" fill="#ff0080"/>
<rect x="409.72" y="363.80" width="6.0" height="6.0" fill="#ff0080"/>
<rect x="417.01" y="355.90" width="6.0" height="6.0" fill="#ff0080"/>
<rect x="423.17" y="350.90" width="6.0" height="6.0" fill="#ff0080"/>
<rect x="428.49" y="345.00" width="6.0" height="6.0" fill="#ff0080"/>
<rect x="433.18" y="340.70" width="6.0" height="6.0" fill="#ff0080"/>
<rect x="437.37" y="336.20" width="6.0" height="6.0" fill="#ff0080"/>
<rect x="441.15" y="332.30" width="6.0" height="6.0" fill="#ff0080"/>
<rect x="444.61" y="328.90" width="6.0" height="6.0" fill="#ff0080"/>
<rect x="447.78" y="326.20" width="6.0" height="6.0" fill="#ff0080"/>
<rect x="450.72" y="323.00" width="6.0" height="6.0" fill="#ff0080"/>
<rect x="453.46" y="320.35" width="6.0" height="6.0" fill="#ff0080"/>
<rect x="456.01" y="317.96" width="6.0" height="6.0" fill="#ff0080"/>
<rect x="458.42" y="315.84" width="6.0" height="6.0" fill="#ff0080"/>
<rect x="460.68" y="313.96" width="6.0" height="6.0" fill="#ff0080"/>
<rect x="462.82" y="312.32" width="6.0" height="6.0" fill="#ff0080"/>
<rect x="464.85" y="310.90" width="6.0" height="6.0" fill="#ff0080"/>
<polyline points="223.0,440.2 250.3,480.5 266.3,493.1 277.7,497.7 286.4,499.3 293.6,499.3 299.7,498.3 305.0,497.2 309.6,496.2 313.8,495.1 317.5,493.9 321.0,492.5 324.1,490.5 327.0,488.2 329.8,485.8 332.3,483.5 334.7,481.2 337.0,479.1 339.1,477.1 341.1,475.0 343.0,472.9 344.9,470.7 346.6,468.2 348.3,465.7 349.9,463.2 351.4,461.0 352.9,459.0 354.4,457.4 355.8,455.9 357.1,454.6 358.4,453.2 359.6,451.8 360.8,450.3 362.0,448.8 363.2,447.2 364.3,445.7 365.4,444.2 366.4,442.7 367.4,441.1 368.4,439.6 369.4,438.1 370.4,436.6 371.3,435.1 372.2,433.6 373.1,432.1 373.9,430.6 374.8,429.1 375.6,427.6 392.1,402.6 403.8,388.0 412.7,377.0 420.0,367.5 426.2,360.8 431.5,354.9 436.2,350.0 440.4,345.2 444.2,341.5 447.6,338.1 450.8,334.9 453.7,332.0 456.5,329.6 459.0,327.4 461.4,325.4 463.7,323.6 465.8,322.0 467.9,320.6" fill="none" stroke="#ff0000" stroke-width="0.6"/>
<rect x="220.00" y="437.20" width="6.0" height="6.0" fill="#ff0000"/>
<rect x="247.33" y="477.53" width="6.0" height="6.0" fill="#ff0000"/>
<rect x="263.31" y="490.11" width="6.0" height="6.0" fill="#ff0000"/>
<rect x="274.65" y="494.71" width="6.0" height="6.0" fill="#ff0000"/>
<rect x="283.45" y="496.30" width="6.0" height="6.0" fill="#ff0000"/>
<rect x="290.64" y="496.30" width="6.0" height="6.0" fill="#ff0000"/>
<rect x="296.72" y="495.26" width="6.0" height="6.0" fill="#ff0000"/>
<rect x="301.98" y="494.20" width="6.0" height="6.0" fill="#ff0000"/>
<rect x="306.62" y="493.18" width="6.0" height="6.0" fill="#ff0000"/>
<rect x="310.78" y="492.09" width="6.0" height="6.0" fill="#ff0000"/>
<rect x="314.54" y="490.88" width="6.0" height="6.0" fill="#ff0000"/>
<rect x="317.97" y="489.48" width="6.0" height="6.0" fill="#ff0000"/>
<rect x="321.12" y="487.54" width="6.0" height="6.0" fill="#ff0000"/>
<rect x="324.04" y="485.25" width="6.0" height="6.0" fill="#ff0000"/>
<rect x="326.76" y="482.84" width="6.0" height="6.0" fill="#ff0000"/>
<rect x="329.31" y="480.46" width="6.0" height="6.0" fill="#ff0000"/>
<rect x="331.70" y="478.20" width="6.0" height="6.0" fill="#ff0000"/>
<rect x="333.95" y="476.13" width="6.0" height="6.0" fill="#ff0000"/>
<rect x="336.08" y="474.10" width="6.0" height="6.0" fill="#ff0000"/>
<rect x="338.11" y="472.05" width="6.0" height="6.0" fill="#ff0000"/>
<rect x="340.03" y="469.94" width="6.0" height="6.0" fill="#ff0000"/>
<rect x="341.86" y="467.71" width="6.0" height="6.0" fill="#ff0000"/>
<rect x="343.62" y="465.23" width="6.0" height="6.0" fill="#ff0000"/>
<rect x="345.29" y="462.67" width="6.0" height="6.0" fill="#ff0000"/>
<rect x="346.90" y="460.19" width="6.0" height="6.0" fill="#ff0000"/>
<rect x="348.45" y="457.95" width="6.0" height="6.0" fill="#ff0000"/>
<rect x="349.94" y="456.04" width="6.0" height="6.0" fill="#ff0000"/>
<rect x="351.37" y="454.41" width="6.0" height="6.0" fill="#ff0000"/>
<rect x="352.75" y="452.94" width="6.0" height="6.0" fill="#ff0000"/>
<rect x="354.09" y="451.55" width="6.0" height="6.0" fill="#ff0000"/>
<rect x="355.38" y="450.18" width="6.0" height="6.0" fill="#ff0000"/>
<rect x="356.64" y="448.77" width="6.0" height="6.0" fill="#ff0000"/>
<rect x="357.85" y="447.28" width="6.0" height="6.0" fill="#ff0000"/>
<rect x="359.03" y="445.76" width="6.0" height="6.0" fill="#ff0000"/>
<rect x="360.17" y="444.23" width="6.0" height="6.0" fill="#ff0000"/>
<rect x="361.28" y="442.71" width="6.0" height="6.0" fill="#ff0000"/>
<rect x="362.36" y="441.18" width="6.0" height="6.0" fill="#ff0000"/>
<rect x="363.41" y="439.66" width="6.0" height="6.0" fill="#ff0000"/>
<rect x="364.43" y="438.14" width="6.0" height="6.0" fill="#ff0000"/>
<rect x="365.43" y="436.62" width="6.0" height="6.0" fill="#ff0000"/>
<rect x="366.41" y="435.10" width="6.0" height="6.0" fill="#ff0000"/>
<rect x="367.36" y="433.59" width="6.0" height="6.0" fill="#ff0000"/>
<rect x="368.28" y="432.08" width="6.0" height="6.0" fill="#ff0000"/>
<rect x="369.19" y="430.57" width="6.0" height="6.0" fill="#ff0000"/>
<rect x="370.08" y="429.07" width="6.0" height="6.0" fill="#ff0000"/>
<rect x="370.94" y="427.58" width="6.0" height="6.0" fill="#ff0000"/>
<rect x="371.79" y="426.09" width="6.0" height="6.0" fill="#ff0000"/>
<rect x="372.62" y="424.60" width="6.0" height="6.0" fill="#ff0000"/>
<rect x="389.15" y="399.60" width="6.0" height="6.0" fill="#ff0000"/>
<rect x="400.76" y="385.00" width="6.0" height="6.0" fill="#ff0000"/>
<rect x="409.72" y="374.00" width="6.0" height="6.0" fill="#ff0000"/>
<rect x="417.01" y="364.50" width="6.0" height="6.0" fill="#ff0000"/>
<rect x="423.17" y="357.80" width="6.0" height="6.0" fill="#ff0000"/>
<rect x="428.49" y="351.90" width="6.0" height="6.0" fill="#ff0000"/>
<rect x="433.18" y="347.00" width="6.0" height="6.0" fill="#ff0000"/>
<rect x="437.37" y="342.20" width="6.0" height="6.0" fill="#ff0000"/>
<rect x="441.15" y="338.50" width="6.0" height="6.0" fill="#ff0000"/>
<rect x="444.61" y="335.10" width="6.0" height="6.0" fill="#ff0000"/>
<rect x="447.78" y="331.86" width="6.0" height="6.0" fill="#ff0000"/>
<rect x="450.72" y="329.00" width="6.0" height="6.0" fill="#ff0000"/>
<rect x="453.46" y="326.56" width="6.0" height="6.0" fill="#ff0000"/>
<rect x="456.01" y="324.36" width="6.0" height="6.0" fill="#ff0000"/>
<rect x="458.42" y="322.38" width="6.0" height="6.0" fill="#ff0000"/>
<rect x="460.68" y="320.60" width="6.0" height="6.0" fill="#ff0000"/>
<rect x="462.82" y="319.02" width="6.0" height="6.0" fill="#ff0000"/>
<rect x="464.85" y="317.60" width="6.0" height="6.0" fill="#ff0000"/>
<polyline points="223.0,420.5 250.3,457.5 266.3,469.7 277.7,474.8 286.4,477.2 293.6,477.5 299.7,476.8 305.0,476.0 309.6,475.1 313.8,474.1 317.5,473.0 321.0,471.8 324.1,470.1 327.0,468.1 329.8,466.0 332.3,464.0 334.7,462.1 337.0,460.4 339.1,458.8 341.1,457.1 343.0,455.5 344.9,453.9 346.6,452.4 348.3,450.9 349.9,449.4 351.4,448.0 352.9,446.5 354.4,445.1 355.8,443.7 357.1,442.3 358.4,440.9 359.6,439.4 360.8,438.0 362.0,436.5 363.2,435.1 364.3,433.6 365.4,432.1 366.4,430.6 367.4,429.1 368.4,427.6 369.4,426.1 370.4,424.6 371.3,423.1 372.2,421.6 373.1,420.2 373.9,418.7 374.8,417.3 375.6,415.8 392.1,394.3 403.8,381.1 412.7,371.3 420.0,363.4 426.2,358.1 431.5,352.6 436.2,348.0 440.4,343.7 444.2,340.0 447.6,336.7 450.8,333.5 453.7,330.7 456.5,328.3 459.0,326.1 461.4,324.2 463.7,322.4 465.8,320.8 467.9,319.4" fill="none" stroke="#ffff00" stroke-width="0.6"/>
<rect x="220.00" y="417.50" width="6.0" height="6.0" fill="#ffff00"/>
<rect x="247.33" y="454.52" width="6.0" height="6.0" fill="#ffff00"/>
<rect x="263.31" y="466.71" width="6.0" height="6.0" fill="#ffff00"/>
<rect x="274.65" y="471.82" width="6.0" height="6.0" fill="#ffff00"/>
<rect x="283.45" y="474.20" width="6.0" height="6.0" fill="#ffff00"/>
<rect x="290.64" y="474.50" width="6.0" height="6.0" fill="#ffff00"/>
<rect x="296.72" y="473.84" width="6.0" height="6.0" fill="#ffff00"/>
<rect x="301.98" y="473.02" width="6.0" height="6.0" fill="#ffff00"/>
<rect x="306.62" y="472.10" width="6.0" height="6.0" fill="#ffff00"/>
<rect x="310.78" y="471.09" width="6.0" height="6.0" fill="#ffff00"/>
<rect x="314.54" y="469.99" width="6.0" height="6.0" fill="#ffff00"/>
<rect x="317.97" y="468.76" width="6.0" height="6.0" fill="#ffff00"/>
<rect x="321.12" y="467.06" width="6.0" height="6.0" fill="#ffff00"/>
<rect x="324.04" y="465.07" width="6.0" height="6.0" fill="#ffff00"/>
<rect x="326.76" y="463.00" width="6.0" height="6.0" fill="#ffff00"/>
<rect x="329.31" y="460.97" width="6.0" height="6.0" fill="#ffff00"/>
<rect x="331.70" y="459.09" width="6.0" height="6.0" fill="#ffff00"/>
<rect x="333.95" y="457.39" width="6.0" height="6.0" fill="#ffff00"/>
<rect x="336.08" y="455.75" width="6.0" height="6.0" fill="#ffff00"/>
<rect x="338.11" y="454.14" width="6.0" height="6.0" fill="#ffff00"/>
<rect x="340.03" y="452.54" width="6.0" height="6.0" fill="#ffff00"/>
<rect x="341.86" y="450.95" width="6.0" height="6.0" fill="#ffff00"/>
<rect x="343.62" y="449.40" width="6.0" height="6.0" fill="#ffff00"/>
<rect x="345.29" y="447.90" width="6.0" height="6.0" fill="#ffff00"/>
<rect x="346.90" y="446.43" width="6.0" height="6.0" fill="#ffff00"/>
<rect x="348.45" y="444.98" width="6.0" height="6.0" fill="#ffff00"/>
<rect x="349.94" y="443.55" width="6.0" height="6.0" fill="#ffff00"/>
<rect x="351.37" y="442.12" width="6.0" height="6.0" fill="#ffff00"/>
<rect x="352.75" y="440.70" width="6.0" height="6.0" fill="#ffff00"/>
<rect x="354.09" y="439.28" width="6.0" height="6.0" fill="#ffff00"/>
<rect x="355.38" y="437.86" width="6.0" height="6.0" fill="#ffff00"/>
<rect x="356.64" y="436.44" width="6.0" height="6.0" fill="#ffff00"/>
<rect x="357.85" y="435.00" width="6.0" height="6.0" fill="#ffff00"/>
<rect x="359.03" y="433.55" width="6.0" height="6.0" fill="#ffff00"/>
<rect x="360.17" y="432.08" width="6.0" height="6.0" fill="#ffff00"/>
<rect x="361.28" y="430.59" width="6.0" height="6.0" fill="#ffff00"/>
<rect x="362.36" y="429.10" width="6.0" height="6.0" fill="#ffff00"/>
<rect x="363.41" y="427.60" width="6.0" height="6.0" fill="#ffff00"/>
<rect x="364.43" y="426.09" width="6.0" height="6.0" fill="#ffff00"/>
<rect x="365.43" y="424.59" width="6.0" height="6.0" fill="#ffff00"/>
<rect x="366.41" y="423.09" width="6.0" height="6.0" fill="#ffff00"/>
<rect x="367.36" y="421.59" width="6.0" height="6.0" fill="#ffff00"/>
<rect x="368.28" y="420.10" width="6.0" height="6.0" fill="#ffff00"/>
<rect x="369.19" y="418.63" width="6.0" height="6.0" fill="#ffff00"/>
<rect x="370.08" y="417.16" width="6.0" height="6.0" fill="#ffff00"/>
<rect x="370.94" y="415.70" width="6.0" height="6.0" fill="#ffff00"/>
<rect x="371.79" y="414.25" width="6.0" height="6.0" fill="#ffff00"/>
<rect x="372.62" y="412.82" width="6.0" height="6.0" fill="#ffff00"/>
<rect x="389.15" y="391.30" width="6.0" height="6.0" fill="#ffff00"/>
<rect x="400.76" y="378.10" width="6.0" height="6.0" fill="#ffff00"/>
<rect x="409.72" y="368.30" width="6.0" height="6.0" fill="#ffff00"/>
<rect x="417.01" y="360.40" width="6.0" height="6.0" fill="#ffff00"/>
<rect x="423.17" y="355.10" width="6.0" height="6.0" fill="#ffff00"/>
<rect x="428.49" y="349.60" width="6.0" height="6.0" fill="#ffff00"/>
<rect x="433.18" y="345.00" width="6.0" height="6.0" fill="#ffff00"/>
<rect x="437.37" y="340.70" width="6.0" height="6.0" fill="#ffff00"/>
<rect x="441.15" y="337.00" width="6.0" height="6.0" fill="#ffff00"/>
<rect x="444.61" y="333.70" width="6.0" height="6.0" fill="#ffff00"/>
<rect x="447.78" y="330.52" width="6.0" height="6.0" fill="#ffff00"/>
<rect x="450.72" y="327.70" width="6.0" height="6.0" fill="#ffff00"/>
<rect x="453.46" y="325.29" width="6.0" height="6.0" fill="#ffff00"/>
<rect x="456.01" y="323.12" width="6.0" height="6.0" fill="#ffff00"/>
<rect x="458.42" y="321.16" width="6.0" height="6.0" fill="#ffff00"/>
<rect x="460.68" y="319.39" width="6.0" height="6.0" fill="#ffff00"/>
<rect x="462.82" y="317.81" width="6.0" height="6.0" fill="#ffff00"/>
<rect x="464.85" y="316.40" width="6.0" height="6.0" fill="#ffff00"/>
<rect x="192.62" y="290.3" width="6.1" height="1.70" fill="#ff5030"/>
<rect x="192.62" y="291.9" width="6.1" height="5.00" fill="#ffff00"/>
<rect x="192.62" y="296.9" width="6.1" height="1.00" fill="#ff0000"/>
<rect x="192.62" y="297.9" width="6.1" height="1.80" fill="#808000"/>
<rect x="192.62" y="299.7" width="6.1" height="5.80" fill="#ff8000"/>
<rect x="192.62" y="305.5" width="6.1" height="2.40" fill="#808080"/>
<rect x="192.62" y="307.9" width="6.1" height="1.20" fill="#0000ff"/>
</g>
<g id="dataB">
<polyline points="269.1,584.1 281.6,590.2 288.8,593.7 294.0,595.9 298.0,597.4 301.3,598.4 304.0,599.2 306.4,599.8 308.5,600.3 310.4,600.7 312.1,600.9 313.7,601.1 315.1,601.1 316.5,601.0 317.7,600.9 318.9,600.7 320.0,600.4 321.0,600.2 321.9,599.9 322.9,599.6 323.7,599.3 324.6,598.9 325.4,598.6 326.1,598.3 326.9,598.0 327.6,597.7 328.2,597.3 328.9,597.0 329.5,596.7 330.1,596.4 330.7,596.2 331.3,595.9 331.8,595.6 332.4,595.3 332.9,595.1 333.4,594.8 333.9,594.6 334.4,594.3 334.8,594.1 335.3,593.8 335.7,593.5 336.2,593.2 336.6,592.9 337.0,592.6 337.4,592.2 337.8,591.9 338.2,591.6 338.6,591.3 346.1,585.4 351.4,582.1 355.4,580.0 358.8,578.5 361.6,577.2 364.0,576.2 366.1,575.2 368.0,574.4 369.7,573.7 371.3,573.0 372.8,572.3 374.1,571.7 375.3,571.2 376.5,570.8 377.6,570.6 378.6,570.4 379.6,570.3 380.5,570.1 387.9,569.1 393.0,570.8 397.0,571.2 400.3,571.0 403.1,570.8 405.5,570.6 407.6,570.5 409.5,570.5 411.2,570.5 412.7,570.5 414.2,570.5 415.5,570.6 416.7,570.6 417.9,570.6 419.0,570.6 420.0,570.7 421.0,570.7 421.9,570.6 423.6,568.1 425.2,568.6 426.6,569.4 427.9,571.3 429.2,574.9 430.3,576.7 431.4,578.6 432.4,580.3 433.4,581.9 434.3,583.5 435.2,585.3 436.0,587.1 436.8,589.0 437.6,591.2 438.3,593.5 439.0,595.8 439.7,598.3 440.4,600.7 441.0,603.1 441.6,605.5 442.2,607.8 442.8,610.0 443.3,612.3 443.9,614.6 444.4,616.9 444.9,619.2 445.4,621.4 445.8,623.7 446.3,626.0 446.8,628.3 447.2,630.7 447.6,633.1 448.1,635.6 448.5,638.0 448.9,640.5 449.3,642.9 449.7,645.3 450.0,647.6 450.4,649.8 450.8,652.0 451.1,654.0 451.5,656.0 451.8,657.9 452.1,659.8 452.5,661.7 452.8,663.7 453.1,665.7 453.4,667.7 453.7,669.8 454.0,672.0 454.3,674.3 454.6,676.7 454.9,679.1 455.2,681.6 455.5,684.2 455.7,686.8 456.0,689.4 456.3,692.1 456.5,694.8 456.8,697.6 457.1,700.3 457.3,703.1" fill="none" stroke="#ff8000" stroke-width="0.6"/>
<rect x="252.45" y="565.06" width="8.5" height="8.5" fill="#ff8000"/>
<rect x="264.88" y="579.80" width="8.5" height="8.5" fill="#ff8000"/>
<rect x="277.32" y="585.98" width="8.5" height="8.5" fill="#ff8000"/>
<rect x="284.59" y="589.47" width="8.5" height="8.5" fill="#ff8000"/>
<rect x="289.75" y="591.65" width="8.5" height="8.5" fill="#ff8000"/>
<rect x="293.75" y="593.14" width="8.5" height="8.5" fill="#ff8000"/>
<rect x="297.02" y="594.11" width="8.5" height="8.5" fill="#ff8000"/>
<rect x="299.79" y="594.90" width="8.5" height="8.5" fill="#ff8000"/>
<rect x="302.18" y="595.56" width="8.5" height="8.5" fill="#ff8000"/>
<rect x="304.29" y="596.08" width="8.5" height="8.5" fill="#ff8000"/>
<rect x="306.18" y="596.45" width="8.5" height="8.5" fill="#ff8000"/>
<rect x="307.89" y="596.69" width="8.5" height="8.5" fill="#ff8000"/>
<rect x="309.45" y="596.82" width="8.5" height="8.5" fill="#ff8000"/>
<rect x="310.89" y="596.85" width="8.5" height="8.5" fill="#ff8000"/>
<rect x="312.22" y="596.78" width="8.5" height="8.5" fill="#ff8000"/>
<rect x="313.46" y="596.63" width="8.5" height="8.5" fill="#ff8000"/>
<rect x="314.61" y="596.43" width="8.5" height="8.5" fill="#ff8000"/>
<rect x="315.70" y="596.19" width="8.5" height="8.5" fill="#ff8000"/>
<rect x="316.73" y="595.92" width="8.5" height="8.5" fill="#ff8000"/>
<rect x="317.70" y="595.63" width="8.5" height="8.5" fill="#ff8000"/>
<rect x="318.62" y="595.33" width="8.5" height="8.5" fill="#ff8000"/>
<rect x="319.49" y="595.01" width="8.5" height="8.5" fill="#ff8000"/>
<rect x="320.32" y="594.70" width="8.5" height="8.5" fill="#ff8000"/>
<rect x="321.12" y="594.37" width="8.5" height="8.5" fill="#ff8000"/>
<rect x="321.89" y="594.05" width="8.5" height="8.5" fill="#ff8000"/>
<rect x="322.62" y="593.73" width="8.5" height="8.5" fill="#ff8000"/>
<rect x="323.32" y="593.41" width="8.5" height="8.5" fill="#ff8000"/>
<rect x="324.00" y="593.10" width="8.5" height="8.5" fill="#ff8000"/>
<rect x="324.65" y="592.79" width="8.5" height="8.5" fill="#ff8000"/>
<rect x="325.28" y="592.49" width="8.5" height="8.5" fill="#ff8000"/>
<rect x="325.89" y="592.19" width="8.5" height="8.5" fill="#ff8000"/>
<rect x="326.48" y="591.90" width="8.5" height="8.5" fill="#ff8000"/>
<rect x="327.05" y="591.62" width="8.5" height="8.5" fill="#ff8000"/>
<rect x="327.60" y="591.34" width="8.5" height="8.5" fill="#ff8000"/>
<rect x="328.13" y="591.07" width="8.5" height="8.5" fill="#ff8000"/>
<rect x="328.65" y="590.81" width="8.5" height="8.5" fill="#ff8000"/>
<rect x="329.16" y="590.55" width="8.5" height="8.5" fill="#ff8000"/>
<rect x="329.65" y="590.30" width="8.5" height="8.5" fill="#ff8000"/>
<rect x="330.13" y="590.06" width="8.5" height="8.5" fill="#ff8000"/>
<rect x="330.59" y="589.81" width="8.5" height="8.5" fill="#ff8000"/>
<rect x="331.05" y="589.54" width="8.5" height="8.5" fill="#ff8000"/>
<rect x="331.49" y="589.25" width="8.5" height="8.5" fill="#ff8000"/>
<rect x="331.92" y="588.94" width="8.5" height="8.5" fill="#ff8000"/>
<rect x="332.34" y="588.63" width="8.5" height="8.5" fill="#ff8000"/>
<rect x="332.76" y="588.32" width="8.5" height="8.5" fill="#ff8000"/>
<rect x="333.16" y="588.00" width="8.5" height="8.5" fill="#ff8000"/>
<rect x="333.55" y="587.68" width="8.5" height="8.5" fill="#ff8000"/>
<rect x="333.94" y="587.37" width="8.5" height="8.5" fill="#ff8000"/>
<rect x="334.32" y="587.07" width="8.5" height="8.5" fill="#ff8000"/>
<rect x="341.84" y="581.18" width="8.5" height="8.5" fill="#ff8000"/>
<rect x="347.12" y="577.81" width="8.5" height="8.5" fill="#ff8000"/>
<rect x="351.20" y="575.76" width="8.5" height="8.5" fill="#ff8000"/>
<rect x="354.51" y="574.24" width="8.5" height="8.5" fill="#ff8000"/>
<rect x="357.31" y="572.99" width="8.5" height="8.5" fill="#ff8000"/>
<rect x="359.73" y="571.91" width="8.5" height="8.5" fill="#ff8000"/>
<rect x="361.87" y="570.99" width="8.5" height="8.5" fill="#ff8000"/>
<rect x="363.77" y="570.18" width="8.5" height="8.5" fill="#ff8000"/>
<rect x="365.50" y="569.46" width="8.5" height="8.5" fill="#ff8000"/>
<rect x="367.07" y="568.75" width="8.5" height="8.5" fill="#ff8000"/>
<rect x="368.51" y="568.05" width="8.5" height="8.5" fill="#ff8000"/>
<rect x="369.85" y="567.43" width="8.5" height="8.5" fill="#ff8000"/>
<rect x="371.09" y="566.94" width="8.5" height="8.5" fill="#ff8000"/>
<rect x="372.26" y="566.59" width="8.5" height="8.5" fill="#ff8000"/>
<rect x="373.35" y="566.37" width="8.5" height="8.5" fill="#ff8000"/>
<rect x="374.38" y="566.18" width="8.5" height="8.5" fill="#ff8000"/>
<rect x="375.35" y="566.03" width="8.5" height="8.5" fill="#ff8000"/>
<rect x="376.28" y="565.90" width="8.5" height="8.5" fill="#ff8000"/>
<rect x="383.62" y="564.83" width="8.5" height="8.5" fill="#ff8000"/>
<rect x="388.78" y="566.53" width="8.5" height="8.5" fill="#ff8000"/>
<rect x="392.78" y="566.94" width="8.5" height="8.5" fill="#ff8000"/>
<rect x="396.06" y="566.79" width="8.5" height="8.5" fill="#ff8000"/>
<rect x="398.82" y="566.57" width="8.5" height="8.5" fill="#ff8000"/>
<rect x="401.22" y="566.39" width="8.5" height="8.5" fill="#ff8000"/>
<rect x="403.33" y="566.28" width="8.5" height="8.5" fill="#ff8000"/>
<rect x="405.22" y="566.25" width="8.5" height="8.5" fill="#ff8000"/>
<rect x="406.93" y="566.26" width="8.5" height="8.5" fill="#ff8000"/>
<rect x="408.49" y="566.27" width="8.5" height="8.5" fill="#ff8000"/>
<rect x="409.92" y="566.29" width="8.5" height="8.5" fill="#ff8000"/>
<rect x="411.25" y="566.32" width="8.5" height="8.5" fill="#ff8000"/>
<rect x="412.49" y="566.34" width="8.5" height="8.5" fill="#ff8000"/>
<rect x="413.65" y="566.36" width="8.5" height="8.5" fill="#ff8000"/>
<rect x="414.74" y="566.39" width="8.5" height="8.5" fill="#ff8000"/>
<rect x="415.76" y="566.42" width="8.5" height="8.5" fill="#ff8000"/>
<rect x="416.73" y="566.44" width="8.5" height="8.5" fill="#ff8000"/>
<rect x="417.65" y="566.30" width="8.5" height="8.5" fill="#ff8000"/>
<rect x="419.36" y="563.85" width="8.5" height="8.5" fill="#ff8000"/>
<rect x="420.92" y="564.32" width="8.5" height="8.5" fill="#ff8000"/>
<rect x="422.36" y="565.14" width="8.5" height="8.5" fill="#ff8000"/>
<rect x="423.69" y="567.10" width="8.5" height="8.5" fill="#ff8000"/>
<rect x="424.92" y="570.67" width="8.5" height="8.5" fill="#ff8000"/>
<rect x="426.08" y="572.46" width="8.5" height="8.5" fill="#ff8000"/>
<rect x="427.17" y="574.31" width="8.5" height="8.5" fill="#ff8000"/>
<rect x="428.19" y="576.00" width="8.5" height="8.5" fill="#ff8000"/>
<rect x="429.16" y="577.64" width="8.5" height="8.5" fill="#ff8000"/>
<rect x="430.08" y="579.29" width="8.5" height="8.5" fill="#ff8000"/>
<rect x="430.96" y="581.00" width="8.5" height="8.5" fill="#ff8000"/>
<rect x="431.79" y="582.81" width="8.5" height="8.5" fill="#ff8000"/>
<rect x="432.59" y="584.76" width="8.5" height="8.5" fill="#ff8000"/>
<rect x="433.35" y="586.91" width="8.5" height="8.5" fill="#ff8000"/>
<rect x="434.08" y="589.20" width="8.5" height="8.5" fill="#ff8000"/>
<rect x="434.79" y="591.59" width="8.5" height="8.5" fill="#ff8000"/>
<rect x="435.47" y="594.02" width="8.5" height="8.5" fill="#ff8000"/>
<rect x="436.12" y="596.45" width="8.5" height="8.5" fill="#ff8000"/>
<rect x="436.75" y="598.86" width="8.5" height="8.5" fill="#ff8000"/>
<rect x="437.36" y="601.22" width="8.5" height="8.5" fill="#ff8000"/>
<rect x="437.94" y="603.51" width="8.5" height="8.5" fill="#ff8000"/>
<rect x="438.51" y="605.78" width="8.5" height="8.5" fill="#ff8000"/>
<rect x="439.06" y="608.06" width="8.5" height="8.5" fill="#ff8000"/>
<rect x="439.60" y="610.34" width="8.5" height="8.5" fill="#ff8000"/>
<rect x="440.12" y="612.62" width="8.5" height="8.5" fill="#ff8000"/>
<rect x="440.63" y="614.91" width="8.5" height="8.5" fill="#ff8000"/>
<rect x="441.12" y="617.20" width="8.5" height="8.5" fill="#ff8000"/>
<rect x="441.60" y="619.49" width="8.5" height="8.5" fill="#ff8000"/>
<rect x="442.06" y="621.78" width="8.5" height="8.5" fill="#ff8000"/>
<rect x="442.52" y="624.08" width="8.5" height="8.5" fill="#ff8000"/>
<rect x="442.96" y="626.44" width="8.5" height="8.5" fill="#ff8000"/>
<rect x="443.39" y="628.85" width="8.5" height="8.5" fill="#ff8000"/>
<rect x="443.81" y="631.30" width="8.5" height="8.5" fill="#ff8000"/>
<rect x="444.22" y="633.76" width="8.5" height="8.5" fill="#ff8000"/>
<rect x="444.63" y="636.21" width="8.5" height="8.5" fill="#ff8000"/>
<rect x="445.02" y="638.63" width="8.5" height="8.5" fill="#ff8000"/>
<rect x="445.41" y="641.01" width="8.5" height="8.5" fill="#ff8000"/>
<rect x="445.79" y="643.33" width="8.5" height="8.5" fill="#ff8000"/>
<rect x="446.16" y="645.58" width="8.5" height="8.5" fill="#ff8000"/>
<rect x="446.52" y="647.74" width="8.5" height="8.5" fill="#ff8000"/>
<rect x="446.87" y="649.80" width="8.5" height="8.5" fill="#ff8000"/>
<rect x="447.22" y="651.77" width="8.5" height="8.5" fill="#ff8000"/>
<rect x="447.56" y="653.69" width="8.5" height="8.5" fill="#ff8000"/>
<rect x="447.90" y="655.59" width="8.5" height="8.5" fill="#ff8000"/>
<rect x="448.23" y="657.49" width="8.5" height="8.5" fill="#ff8000"/>
<rect x="448.55" y="659.42" width="8.5" height="8.5" fill="#ff8000"/>
<rect x="448.87" y="661.40" width="8.5" height="8.5" fill="#ff8000"/>
<rect x="449.18" y="663.44" width="8.5" height="8.5" fill="#ff8000"/>
<rect x="449.49" y="665.56" width="8.5" height="8.5" fill="#ff8000"/>
<rect x="449.79" y="667.78" width="8.5" height="8.5" fill="#ff8000"/>
<rect x="450.08" y="670.08" width="8.5" height="8.5" fill="#ff8000"/>
<rect x="450.38" y="672.45" width="8.5" height="8.5" fill="#ff8000"/>
<rect x="450.66" y="674.90" width="8.5" height="8.5" fill="#ff8000"/>
<rect x="450.95" y="677.40" width="8.5" height="8.5" fill="#ff8000"/>
<rect x="451.22" y="679.95" width="8.5" height="8.5" fill="#ff8000"/>
<rect x="451.50" y="682.55" width="8.5" height="8.5" fill="#ff8000"/>
<rect x="451.77" y="685.20" width="8.5" height="8.5" fill="#ff8000"/>
<rect x="452.03" y="687.87" width="8.5" height="8.5" fill="#ff8000"/>
<rect x="452.29" y="690.58" width="8.5" height="8.5" fill="#ff8000"/>
<rect x="452.55" y="693.31" width="8.5" height="8.5" fill="#ff8000"/>
<rect x="452.81" y="696.05" width="8.5" height="8.5" fill="#ff8000"/>
<rect x="453.06" y="698.82" width="8.5" height="8.5" fill="#ff8000"/>
<rect x="384.95" y="563.75" width="8.5" height="8.5" fill="#ff8000"/>
<rect x="418.25" y="563.75" width="8.5" height="8.5" fill="#ff8000"/>
</g>
<rect x="132.5" y="281.6" width="342.80" height="255.30" fill="none" stroke="#000" stroke-width="2.25"/>
<rect x="133.5" y="545.4" width="342.90" height="176.70" fill="none" stroke="#000" stroke-width="2.25"/>
<g id="ticksA">
<line x1="148.20" y1="281.60" x2="148.20" y2="285.53" stroke="#000" stroke-width="1.9" />
<line x1="148.20" y1="536.90" x2="148.20" y2="540.60" stroke="#000" stroke-width="1.9" />
<line x1="159.55" y1="281.60" x2="159.55" y2="285.53" stroke="#000" stroke-width="1.9" />
<line x1="159.55" y1="536.90" x2="159.55" y2="540.60" stroke="#000" stroke-width="1.9" />
<line x1="168.34" y1="281.60" x2="168.34" y2="285.53" stroke="#000" stroke-width="1.9" />
<line x1="168.34" y1="536.90" x2="168.34" y2="540.60" stroke="#000" stroke-width="1.9" />
<line x1="175.53" y1="281.60" x2="175.53" y2="285.53" stroke="#000" stroke-width="1.9" />
<line x1="175.53" y1="536.90" x2="175.53" y2="540.60" stroke="#000" stroke-width="1.9" />
<line x1="181.61" y1="281.60" x2="181.61" y2="285.53" stroke="#000" stroke-width="1.9" />
<line x1="181.61" y1="536.90" x2="181.61" y2="540.60" stroke="#000" stroke-width="1.9" />
<line x1="186.87" y1="281.60" x2="186.87" y2="285.53" stroke="#000" stroke-width="1.9" />
<line x1="186.87" y1="536.90" x2="186.87" y2="540.60" stroke="#000" stroke-width="1.9" />
<line x1="191.52" y1="281.60" x2="191.52" y2="285.53" stroke="#000" stroke-width="1.9" />
<line x1="191.52" y1="536.90" x2="191.52" y2="540.60" stroke="#000" stroke-width="1.9" />
<line x1="195.67" y1="281.60" x2="195.67" y2="288.13" stroke="#000" stroke-width="2.2" />
<line x1="195.67" y1="536.90" x2="195.67" y2="542.70" stroke="#000" stroke-width="2.2" />
<line x1="223.00" y1="281.60" x2="223.00" y2="285.53" stroke="#000" stroke-width="1.9" />
<line x1="223.00" y1="536.90" x2="223.00" y2="540.60" stroke="#000" stroke-width="1.9" />
<line x1="238.98" y1="281.60" x2="238.98" y2="285.53" stroke="#000" stroke-width="1.9" />
<line x1="238.98" y1="536.90" x2="238.98" y2="540.60" stroke="#000" stroke-width="1.9" />
<line x1="250.33" y1="281.60" x2="250.33" y2="285.53" stroke="#000" stroke-width="1.9" />
<line x1="250.33" y1="536.90" x2="250.33" y2="540.60" stroke="#000" stroke-width="1.9" />
<line x1="259.12" y1="281.60" x2="259.12" y2="285.53" stroke="#000" stroke-width="1.9" />
<line x1="259.12" y1="536.90" x2="259.12" y2="540.60" stroke="#000" stroke-width="1.9" />
<line x1="266.31" y1="281.60" x2="266.31" y2="285.53" stroke="#000" stroke-width="1.9" />
<line x1="266.31" y1="536.90" x2="266.31" y2="540.60" stroke="#000" stroke-width="1.9" />
<line x1="272.39" y1="281.60" x2="272.39" y2="285.53" stroke="#000" stroke-width="1.9" />
<line x1="272.39" y1="536.90" x2="272.39" y2="540.60" stroke="#000" stroke-width="1.9" />
<line x1="277.65" y1="281.60" x2="277.65" y2="285.53" stroke="#000" stroke-width="1.9" />
<line x1="277.65" y1="536.90" x2="277.65" y2="540.60" stroke="#000" stroke-width="1.9" />
<line x1="282.30" y1="281.60" x2="282.30" y2="285.53" stroke="#000" stroke-width="1.9" />
<line x1="282.30" y1="536.90" x2="282.30" y2="540.60" stroke="#000" stroke-width="1.9" />
<line x1="286.45" y1="281.60" x2="286.45" y2="288.13" stroke="#000" stroke-width="2.2" />
<line x1="286.45" y1="536.90" x2="286.45" y2="542.70" stroke="#000" stroke-width="2.2" />
<line x1="313.78" y1="281.60" x2="313.78" y2="285.53" stroke="#000" stroke-width="1.9" />
<line x1="313.78" y1="536.90" x2="313.78" y2="540.60" stroke="#000" stroke-width="1.9" />
<line x1="329.76" y1="281.60" x2="329.76" y2="285.53" stroke="#000" stroke-width="1.9" />
<line x1="329.76" y1="536.90" x2="329.76" y2="540.60" stroke="#000" stroke-width="1.9" />
<line x1="341.11" y1="281.60" x2="341.11" y2="285.53" stroke="#000" stroke-width="1.9" />
<line x1="341.11" y1="536.90" x2="341.11" y2="540.60" stroke="#000" stroke-width="1.9" />
<line x1="349.90" y1="281.60" x2="349.90" y2="285.53" stroke="#000" stroke-width="1.9" />
<line x1="349.90" y1="536.90" x2="349.90" y2="540.60" stroke="#000" stroke-width="1.9" />
<line x1="357.09" y1="281.60" x2="357.09" y2="285.53" stroke="#000" stroke-width="1.9" />
<line x1="357.09" y1="536.90" x2="357.09" y2="540.60" stroke="#000" stroke-width="1.9" />
<line x1="363.17" y1="281.60" x2="363.17" y2="285.53" stroke="#000" stroke-width="1.9" />
<line x1="363.17" y1="536.90" x2="363.17" y2="540.60" stroke="#000" stroke-width="1.9" />
<line x1="368.43" y1="281.60" x2="368.43" y2="285.53" stroke="#000" stroke-width="1.9" />
<line x1="368.43" y1="536.90" x2="368.43" y2="540.60" stroke="#000" stroke-width="1.9" />
<line x1="373.08" y1="281.60" x2="373.08" y2="285.53" stroke="#000" stroke-width="1.9" />
<line x1="373.08" y1="536.90" x2="373.08" y2="540.60" stroke="#000" stroke-width="1.9" />
<line x1="377.23" y1="281.60" x2="377.23" y2="288.13" stroke="#000" stroke-width="2.2" />
<line x1="377.23" y1="536.90" x2="377.23" y2="542.70" stroke="#000" stroke-width="2.2" />
<line x1="404.56" y1="281.60" x2="404.56" y2="285.53" stroke="#000" stroke-width="1.9" />
<line x1="404.56" y1="536.90" x2="404.56" y2="540.60" stroke="#000" stroke-width="1.9" />
<line x1="420.54" y1="281.60" x2="420.54" y2="285.53" stroke="#000" stroke-width="1.9" />
<line x1="420.54" y1="536.90" x2="420.54" y2="540.60" stroke="#000" stroke-width="1.9" />
<line x1="431.89" y1="281.60" x2="431.89" y2="285.53" stroke="#000" stroke-width="1.9" />
<line x1="431.89" y1="536.90" x2="431.89" y2="540.60" stroke="#000" stroke-width="1.9" />
<line x1="440.68" y1="281.60" x2="440.68" y2="285.53" stroke="#000" stroke-width="1.9" />
<line x1="440.68" y1="536.90" x2="440.68" y2="540.60" stroke="#000" stroke-width="1.9" />
<line x1="447.87" y1="281.60" x2="447.87" y2="285.53" stroke="#000" stroke-width="1.9" />
<line x1="447.87" y1="536.90" x2="447.87" y2="540.60" stroke="#000" stroke-width="1.9" />
<line x1="453.95" y1="281.60" x2="453.95" y2="285.53" stroke="#000" stroke-width="1.9" />
<line x1="453.95" y1="536.90" x2="453.95" y2="540.60" stroke="#000" stroke-width="1.9" />
<line x1="459.21" y1="281.60" x2="459.21" y2="285.53" stroke="#000" stroke-width="1.9" />
<line x1="459.21" y1="536.90" x2="459.21" y2="540.60" stroke="#000" stroke-width="1.9" />
<line x1="463.86" y1="281.60" x2="463.86" y2="285.53" stroke="#000" stroke-width="1.9" />
<line x1="463.86" y1="536.90" x2="463.86" y2="540.60" stroke="#000" stroke-width="1.9" />
<line x1="468.01" y1="281.60" x2="468.01" y2="288.13" stroke="#000" stroke-width="2.2" />
<line x1="468.01" y1="536.90" x2="468.01" y2="542.70" stroke="#000" stroke-width="2.2" />
<line x1="126.30" y1="306.00" x2="132.50" y2="306.00" stroke="#000" stroke-width="2.2" />
<line x1="475.30" y1="306.00" x2="469.30" y2="306.00" stroke="#000" stroke-width="2.2" />
<line x1="128.70" y1="337.25" x2="132.50" y2="337.25" stroke="#000" stroke-width="2.2" />
<line x1="475.30" y1="337.25" x2="471.70" y2="337.25" stroke="#000" stroke-width="2.2" />
<line x1="126.30" y1="368.50" x2="132.50" y2="368.50" stroke="#000" stroke-width="2.2" />
<line x1="475.30" y1="368.50" x2="469.30" y2="368.50" stroke="#000" stroke-width="2.2" />
<line x1="128.70" y1="399.75" x2="132.50" y2="399.75" stroke="#000" stroke-width="2.2" />
<line x1="475.30" y1="399.75" x2="471.70" y2="399.75" stroke="#000" stroke-width="2.2" />
<line x1="126.30" y1="431.00" x2="132.50" y2="431.00" stroke="#000" stroke-width="2.2" />
<line x1="475.30" y1="431.00" x2="469.30" y2="431.00" stroke="#000" stroke-width="2.2" />
<line x1="128.70" y1="462.25" x2="132.50" y2="462.25" stroke="#000" stroke-width="2.2" />
<line x1="475.30" y1="462.25" x2="471.70" y2="462.25" stroke="#000" stroke-width="2.2" />
<line x1="126.30" y1="493.50" x2="132.50" y2="493.50" stroke="#000" stroke-width="2.2" />
<line x1="475.30" y1="493.50" x2="469.30" y2="493.50" stroke="#000" stroke-width="2.2" />
<line x1="128.70" y1="524.75" x2="132.50" y2="524.75" stroke="#000" stroke-width="2.2" />
<line x1="475.30" y1="524.75" x2="471.70" y2="524.75" stroke="#000" stroke-width="2.2" />
</g>
<g id="ticksB">
<line x1="132.80" y1="545.40" x2="132.80" y2="551.00" stroke="#000" stroke-width="2.0" />
<line x1="132.80" y1="722.10" x2="132.80" y2="727.70" stroke="#000" stroke-width="2.0" />
<line x1="145.23" y1="545.40" x2="145.23" y2="548.70" stroke="#000" stroke-width="1.5" />
<line x1="145.23" y1="722.10" x2="145.23" y2="725.80" stroke="#000" stroke-width="1.5" />
<line x1="152.51" y1="545.40" x2="152.51" y2="548.70" stroke="#000" stroke-width="1.5" />
<line x1="152.51" y1="722.10" x2="152.51" y2="725.80" stroke="#000" stroke-width="1.5" />
<line x1="157.67" y1="545.40" x2="157.67" y2="548.70" stroke="#000" stroke-width="1.5" />
<line x1="157.67" y1="722.10" x2="157.67" y2="725.80" stroke="#000" stroke-width="1.5" />
<line x1="161.67" y1="545.40" x2="161.67" y2="548.70" stroke="#000" stroke-width="1.5" />
<line x1="161.67" y1="722.10" x2="161.67" y2="725.80" stroke="#000" stroke-width="1.5" />
<line x1="164.94" y1="545.40" x2="164.94" y2="548.70" stroke="#000" stroke-width="1.5" />
<line x1="164.94" y1="722.10" x2="164.94" y2="725.80" stroke="#000" stroke-width="1.5" />
<line x1="167.70" y1="545.40" x2="167.70" y2="548.70" stroke="#000" stroke-width="1.5" />
<line x1="167.70" y1="722.10" x2="167.70" y2="725.80" stroke="#000" stroke-width="1.5" />
<line x1="170.10" y1="545.40" x2="170.10" y2="548.70" stroke="#000" stroke-width="1.5" />
<line x1="170.10" y1="722.10" x2="170.10" y2="725.80" stroke="#000" stroke-width="1.5" />
<line x1="172.21" y1="545.40" x2="172.21" y2="548.70" stroke="#000" stroke-width="1.5" />
<line x1="172.21" y1="722.10" x2="172.21" y2="725.80" stroke="#000" stroke-width="1.5" />
<line x1="174.10" y1="545.40" x2="174.10" y2="551.00" stroke="#000" stroke-width="2.0" />
<line x1="174.10" y1="722.10" x2="174.10" y2="727.70" stroke="#000" stroke-width="2.0" />
<line x1="186.53" y1="545.40" x2="186.53" y2="548.70" stroke="#000" stroke-width="1.5" />
<line x1="186.53" y1="722.10" x2="186.53" y2="725.80" stroke="#000" stroke-width="1.5" />
<line x1="193.81" y1="545.40" x2="193.81" y2="548.70" stroke="#000" stroke-width="1.5" />
<line x1="193.81" y1="722.10" x2="193.81" y2="725.80" stroke="#000" stroke-width="1.5" />
<line x1="198.97" y1="545.40" x2="198.97" y2="548.70" stroke="#000" stroke-width="1.5" />
<line x1="198.97" y1="722.10" x2="198.97" y2="725.80" stroke="#000" stroke-width="1.5" />
<line x1="202.97" y1="545.40" x2="202.97" y2="548.70" stroke="#000" stroke-width="1.5" />
<line x1="202.97" y1="722.10" x2="202.97" y2="725.80" stroke="#000" stroke-width="1.5" />
<line x1="206.24" y1="545.40" x2="206.24" y2="548.70" stroke="#000" stroke-width="1.5" />
<line x1="206.24" y1="722.10" x2="206.24" y2="725.80" stroke="#000" stroke-width="1.5" />
<line x1="209.00" y1="545.40" x2="209.00" y2="548.70" stroke="#000" stroke-width="1.5" />
<line x1="209.00" y1="722.10" x2="209.00" y2="725.80" stroke="#000" stroke-width="1.5" />
<line x1="211.40" y1="545.40" x2="211.40" y2="548.70" stroke="#000" stroke-width="1.5" />
<line x1="211.40" y1="722.10" x2="211.40" y2="725.80" stroke="#000" stroke-width="1.5" />
<line x1="213.51" y1="545.40" x2="213.51" y2="548.70" stroke="#000" stroke-width="1.5" />
<line x1="213.51" y1="722.10" x2="213.51" y2="725.80" stroke="#000" stroke-width="1.5" />
<line x1="215.40" y1="545.40" x2="215.40" y2="551.00" stroke="#000" stroke-width="2.0" />
<line x1="215.40" y1="722.10" x2="215.40" y2="727.70" stroke="#000" stroke-width="2.0" />
<line x1="227.83" y1="545.40" x2="227.83" y2="548.70" stroke="#000" stroke-width="1.5" />
<line x1="227.83" y1="722.10" x2="227.83" y2="725.80" stroke="#000" stroke-width="1.5" />
<line x1="235.11" y1="545.40" x2="235.11" y2="548.70" stroke="#000" stroke-width="1.5" />
<line x1="235.11" y1="722.10" x2="235.11" y2="725.80" stroke="#000" stroke-width="1.5" />
<line x1="240.27" y1="545.40" x2="240.27" y2="548.70" stroke="#000" stroke-width="1.5" />
<line x1="240.27" y1="722.10" x2="240.27" y2="725.80" stroke="#000" stroke-width="1.5" />
<line x1="244.27" y1="545.40" x2="244.27" y2="548.70" stroke="#000" stroke-width="1.5" />
<line x1="244.27" y1="722.10" x2="244.27" y2="725.80" stroke="#000" stroke-width="1.5" />
<line x1="247.54" y1="545.40" x2="247.54" y2="548.70" stroke="#000" stroke-width="1.5" />
<line x1="247.54" y1="722.10" x2="247.54" y2="725.80" stroke="#000" stroke-width="1.5" />
<line x1="250.30" y1="545.40" x2="250.30" y2="548.70" stroke="#000" stroke-width="1.5" />
<line x1="250.30" y1="722.10" x2="250.30" y2="725.80" stroke="#000" stroke-width="1.5" />
<line x1="252.70" y1="545.40" x2="252.70" y2="548.70" stroke="#000" stroke-width="1.5" />
<line x1="252.70" y1="722.10" x2="252.70" y2="725.80" stroke="#000" stroke-width="1.5" />
<line x1="254.81" y1="545.40" x2="254.81" y2="548.70" stroke="#000" stroke-width="1.5" />
<line x1="254.81" y1="722.10" x2="254.81" y2="725.80" stroke="#000" stroke-width="1.5" />
<line x1="256.70" y1="545.40" x2="256.70" y2="551.00" stroke="#000" stroke-width="2.0" />
<line x1="256.70" y1="722.10" x2="256.70" y2="727.70" stroke="#000" stroke-width="2.0" />
<line x1="269.13" y1="545.40" x2="269.13" y2="548.70" stroke="#000" stroke-width="1.5" />
<line x1="269.13" y1="722.10" x2="269.13" y2="725.80" stroke="#000" stroke-width="1.5" />
<line x1="276.41" y1="545.40" x2="276.41" y2="548.70" stroke="#000" stroke-width="1.5" />
<line x1="276.41" y1="722.10" x2="276.41" y2="725.80" stroke="#000" stroke-width="1.5" />
<line x1="281.57" y1="545.40" x2="281.57" y2="548.70" stroke="#000" stroke-width="1.5" />
<line x1="281.57" y1="722.10" x2="281.57" y2="725.80" stroke="#000" stroke-width="1.5" />
<line x1="285.57" y1="545.40" x2="285.57" y2="548.70" stroke="#000" stroke-width="1.5" />
<line x1="285.57" y1="722.10" x2="285.57" y2="725.80" stroke="#000" stroke-width="1.5" />
<line x1="288.84" y1="545.40" x2="288.84" y2="548.70" stroke="#000" stroke-width="1.5" />
<line x1="288.84" y1="722.10" x2="288.84" y2="725.80" stroke="#000" stroke-width="1.5" />
<line x1="291.60" y1="545.40" x2="291.60" y2="548.70" stroke="#000" stroke-width="1.5" />
<line x1="291.60" y1="722.10" x2="291.60" y2="725.80" stroke="#000" stroke-width="1.5" />
<line x1="294.00" y1="545.40" x2="294.00" y2="548.70" stroke="#000" stroke-width="1.5" />
<line x1="294.00" y1="722.10" x2="294.00" y2="725.80" stroke="#000" stroke-width="1.5" />
<line x1="296.11" y1="545.40" x2="296.11" y2="548.70" stroke="#000" stroke-width="1.5" />
<line x1="296.11" y1="722.10" x2="296.11" y2="725.80" stroke="#000" stroke-width="1.5" />
<line x1="298.00" y1="545.40" x2="298.00" y2="551.00" stroke="#000" stroke-width="2.0" />
<line x1="298.00" y1="722.10" x2="298.00" y2="727.70" stroke="#000" stroke-width="2.0" />
<line x1="310.43" y1="545.40" x2="310.43" y2="548.70" stroke="#000" stroke-width="1.5" />
<line x1="310.43" y1="722.10" x2="310.43" y2="725.80" stroke="#000" stroke-width="1.5" />
<line x1="317.71" y1="545.40" x2="317.71" y2="548.70" stroke="#000" stroke-width="1.5" />
<line x1="317.71" y1="722.10" x2="317.71" y2="725.80" stroke="#000" stroke-width="1.5" />
<line x1="322.87" y1="545.40" x2="322.87" y2="548.70" stroke="#000" stroke-width="1.5" />
<line x1="322.87" y1="722.10" x2="322.87" y2="725.80" stroke="#000" stroke-width="1.5" />
<line x1="326.87" y1="545.40" x2="326.87" y2="548.70" stroke="#000" stroke-width="1.5" />
<line x1="326.87" y1="722.10" x2="326.87" y2="725.80" stroke="#000" stroke-width="1.5" />
<line x1="330.14" y1="545.40" x2="330.14" y2="548.70" stroke="#000" stroke-width="1.5" />
<line x1="330.14" y1="722.10" x2="330.14" y2="725.80" stroke="#000" stroke-width="1.5" />
<line x1="332.90" y1="545.40" x2="332.90" y2="548.70" stroke="#000" stroke-width="1.5" />
<line x1="332.90" y1="722.10" x2="332.90" y2="725.80" stroke="#000" stroke-width="1.5" />
<line x1="335.30" y1="545.40" x2="335.30" y2="548.70" stroke="#000" stroke-width="1.5" />
<line x1="335.30" y1="722.10" x2="335.30" y2="725.80" stroke="#000" stroke-width="1.5" />
<line x1="337.41" y1="545.40" x2="337.41" y2="548.70" stroke="#000" stroke-width="1.5" />
<line x1="337.41" y1="722.10" x2="337.41" y2="725.80" stroke="#000" stroke-width="1.5" />
<line x1="339.30" y1="545.40" x2="339.30" y2="551.00" stroke="#000" stroke-width="2.0" />
<line x1="339.30" y1="722.10" x2="339.30" y2="727.70" stroke="#000" stroke-width="2.0" />
<line x1="351.73" y1="545.40" x2="351.73" y2="548.70" stroke="#000" stroke-width="1.5" />
<line x1="351.73" y1="722.10" x2="351.73" y2="725.80" stroke="#000" stroke-width="1.5" />
<line x1="359.01" y1="545.40" x2="359.01" y2="548.70" stroke="#000" stroke-width="1.5" />
<line x1="359.01" y1="722.10" x2="359.01" y2="725.80" stroke="#000" stroke-width="1.5" />
<line x1="364.17" y1="545.40" x2="364.17" y2="548.70" stroke="#000" stroke-width="1.5" />
<line x1="364.17" y1="722.10" x2="364.17" y2="725.80" stroke="#000" stroke-width="1.5" />
<line x1="368.17" y1="545.40" x2="368.17" y2="548.70" stroke="#000" stroke-width="1.5" />
<line x1="368.17" y1="722.10" x2="368.17" y2="725.80" stroke="#000" stroke-width="1.5" />
<line x1="371.44" y1="545.40" x2="371.44" y2="548.70" stroke="#000" stroke-width="1.5" />
<line x1="371.44" y1="722.10" x2="371.44" y2="725.80" stroke="#000" stroke-width="1.5" />
<line x1="374.20" y1="545.40" x2="374.20" y2="548.70" stroke="#000" stroke-width="1.5" />
<line x1="374.20" y1="722.10" x2="374.20" y2="725.80" stroke="#000" stroke-width="1.5" />
<line x1="376.60" y1="545.40" x2="376.60" y2="548.70" stroke="#000" stroke-width="1.5" />
<line x1="376.60" y1="722.10" x2="376.60" y2="725.80" stroke="#000" stroke-width="1.5" />
<line x1="378.71" y1="545.40" x2="378.71" y2="548.70" stroke="#000" stroke-width="1.5" />
<line x1="378.71" y1="722.10" x2="378.71" y2="725.80" stroke="#000" stroke-width="1.5" />
<line x1="380.60" y1="545.40" x2="380.60" y2="551.00" stroke="#000" stroke-width="2.0" />
<line x1="380.60" y1="722.10" x2="380.60" y2="727.70" stroke="#000" stroke-width="2.0" />
<line x1="393.03" y1="545.40" x2="393.03" y2="548.70" stroke="#000" stroke-width="1.5" />
<line x1="393.03" y1="722.10" x2="393.03" y2="725.80" stroke="#000" stroke-width="1.5" />
<line x1="400.31" y1="545.40" x2="400.31" y2="548.70" stroke="#000" stroke-width="1.5" />
<line x1="400.31" y1="722.10" x2="400.31" y2="725.80" stroke="#000" stroke-width="1.5" />
<line x1="405.47" y1="545.40" x2="405.47" y2="548.70" stroke="#000" stroke-width="1.5" />
<line x1="405.47" y1="722.10" x2="405.47" y2="725.80" stroke="#000" stroke-width="1.5" />
<line x1="409.47" y1="545.40" x2="409.47" y2="548.70" stroke="#000" stroke-width="1.5" />
<line x1="409.47" y1="722.10" x2="409.47" y2="725.80" stroke="#000" stroke-width="1.5" />
<line x1="412.74" y1="545.40" x2="412.74" y2="548.70" stroke="#000" stroke-width="1.5" />
<line x1="412.74" y1="722.10" x2="412.74" y2="725.80" stroke="#000" stroke-width="1.5" />
<line x1="415.50" y1="545.40" x2="415.50" y2="548.70" stroke="#000" stroke-width="1.5" />
<line x1="415.50" y1="722.10" x2="415.50" y2="725.80" stroke="#000" stroke-width="1.5" />
<line x1="417.90" y1="545.40" x2="417.90" y2="548.70" stroke="#000" stroke-width="1.5" />
<line x1="417.90" y1="722.10" x2="417.90" y2="725.80" stroke="#000" stroke-width="1.5" />
<line x1="420.01" y1="545.40" x2="420.01" y2="548.70" stroke="#000" stroke-width="1.5" />
<line x1="420.01" y1="722.10" x2="420.01" y2="725.80" stroke="#000" stroke-width="1.5" />
<line x1="421.90" y1="545.40" x2="421.90" y2="551.00" stroke="#000" stroke-width="2.0" />
<line x1="421.90" y1="722.10" x2="421.90" y2="727.70" stroke="#000" stroke-width="2.0" />
<line x1="434.33" y1="545.40" x2="434.33" y2="548.70" stroke="#000" stroke-width="1.5" />
<line x1="434.33" y1="722.10" x2="434.33" y2="725.80" stroke="#000" stroke-width="1.5" />
<line x1="441.61" y1="545.40" x2="441.61" y2="548.70" stroke="#000" stroke-width="1.5" />
<line x1="441.61" y1="722.10" x2="441.61" y2="725.80" stroke="#000" stroke-width="1.5" />
<line x1="446.77" y1="545.40" x2="446.77" y2="548.70" stroke="#000" stroke-width="1.5" />
<line x1="446.77" y1="722.10" x2="446.77" y2="725.80" stroke="#000" stroke-width="1.5" />
<line x1="450.77" y1="545.40" x2="450.77" y2="548.70" stroke="#000" stroke-width="1.5" />
<line x1="450.77" y1="722.10" x2="450.77" y2="725.80" stroke="#000" stroke-width="1.5" />
<line x1="454.04" y1="545.40" x2="454.04" y2="548.70" stroke="#000" stroke-width="1.5" />
<line x1="454.04" y1="722.10" x2="454.04" y2="725.80" stroke="#000" stroke-width="1.5" />
<line x1="456.80" y1="545.40" x2="456.80" y2="548.70" stroke="#000" stroke-width="1.5" />
<line x1="456.80" y1="722.10" x2="456.80" y2="725.80" stroke="#000" stroke-width="1.5" />
<line x1="459.20" y1="545.40" x2="459.20" y2="548.70" stroke="#000" stroke-width="1.5" />
<line x1="459.20" y1="722.10" x2="459.20" y2="725.80" stroke="#000" stroke-width="1.5" />
<line x1="461.31" y1="545.40" x2="461.31" y2="548.70" stroke="#000" stroke-width="1.5" />
<line x1="461.31" y1="722.10" x2="461.31" y2="725.80" stroke="#000" stroke-width="1.5" />
<line x1="463.20" y1="545.40" x2="463.20" y2="551.00" stroke="#000" stroke-width="2.0" />
<line x1="463.20" y1="722.10" x2="463.20" y2="727.70" stroke="#000" stroke-width="2.0" />
<line x1="475.63" y1="545.40" x2="475.63" y2="548.70" stroke="#000" stroke-width="1.5" />
<line x1="475.63" y1="722.10" x2="475.63" y2="725.80" stroke="#000" stroke-width="1.5" />
<line x1="127.30" y1="570.80" x2="133.50" y2="570.80" stroke="#000" stroke-width="2.2" />
<line x1="476.40" y1="570.80" x2="470.40" y2="570.80" stroke="#000" stroke-width="2.2" />
<line x1="129.70" y1="596.03" x2="133.50" y2="596.03" stroke="#000" stroke-width="2.2" />
<line x1="476.40" y1="596.03" x2="472.80" y2="596.03" stroke="#000" stroke-width="2.2" />
<line x1="127.30" y1="621.27" x2="133.50" y2="621.27" stroke="#000" stroke-width="2.2" />
<line x1="476.40" y1="621.27" x2="470.40" y2="621.27" stroke="#000" stroke-width="2.2" />
<line x1="129.70" y1="646.50" x2="133.50" y2="646.50" stroke="#000" stroke-width="2.2" />
<line x1="476.40" y1="646.50" x2="472.80" y2="646.50" stroke="#000" stroke-width="2.2" />
<line x1="127.30" y1="671.74" x2="133.50" y2="671.74" stroke="#000" stroke-width="2.2" />
<line x1="476.40" y1="671.74" x2="470.40" y2="671.74" stroke="#000" stroke-width="2.2" />
<line x1="129.70" y1="696.97" x2="133.50" y2="696.97" stroke="#000" stroke-width="2.2" />
<line x1="476.40" y1="696.97" x2="472.80" y2="696.97" stroke="#000" stroke-width="2.2" />
<line x1="127.30" y1="722.21" x2="133.50" y2="722.21" stroke="#000" stroke-width="2.2" />
</g>
<rect x="136.6" y="472.9" width="86.70" height="192.50" fill="#fff" stroke="#3a3a3a" stroke-width="1"/>
<text x="142.0" y="497.2" font-family="Liberation Sans, sans-serif" font-size="14.6" fill="#000" textLength="50.6" lengthAdjust="spacingAndGlyphs"><tspan font-style="italic">x</tspan> = 7%</text>
<line x1="141.80" y1="509.70" x2="172.00" y2="509.70" stroke="#ff0000" stroke-width="0.75" />
<rect x="152.20" y="504.90" width="9.6" height="9.6" fill="#ff0000"/>
<text x="175.0" y="514.25" font-family="Liberation Sans, sans-serif" font-size="12.6" fill="#000" transform="translate(175.0 0) scale(1.07 1) translate(-175.0 0)">22.4K</text>
<line x1="141.80" y1="526.15" x2="172.00" y2="526.15" stroke="#ffff00" stroke-width="0.75" />
<rect x="152.20" y="521.35" width="9.6" height="9.6" fill="#ffff00"/>
<text x="175.0" y="530.70" font-family="Liberation Sans, sans-serif" font-size="12.6" fill="#000" transform="translate(175.0 0) scale(1.07 1) translate(-175.0 0)">22.43 K</text>
<line x1="141.80" y1="542.60" x2="172.00" y2="542.60" stroke="#ff0080" stroke-width="0.75" />
<rect x="152.20" y="537.80" width="9.6" height="9.6" fill="#ff0080"/>
<text x="175.0" y="547.15" font-family="Liberation Sans, sans-serif" font-size="12.6" fill="#000" transform="translate(175.0 0) scale(1.07 1) translate(-175.0 0)">22.45K</text>
<line x1="141.80" y1="559.05" x2="172.00" y2="559.05" stroke="#008000" stroke-width="0.75" />
<rect x="152.20" y="554.25" width="9.6" height="9.6" fill="#008000"/>
<text x="175.0" y="563.60" font-family="Liberation Sans, sans-serif" font-size="12.6" fill="#000" transform="translate(175.0 0) scale(1.07 1) translate(-175.0 0)">22.5 K</text>
<line x1="141.80" y1="575.50" x2="172.00" y2="575.50" stroke="#808000" stroke-width="0.75" />
<rect x="152.20" y="570.70" width="9.6" height="9.6" fill="#808000"/>
<text x="175.0" y="580.05" font-family="Liberation Sans, sans-serif" font-size="12.6" fill="#000" transform="translate(175.0 0) scale(1.07 1) translate(-175.0 0)">22.6K</text>
<line x1="141.80" y1="591.95" x2="172.00" y2="591.95" stroke="#0000ff" stroke-width="0.75" />
<rect x="152.20" y="587.15" width="9.6" height="9.6" fill="#0000ff"/>
<text x="175.0" y="596.50" font-family="Liberation Sans, sans-serif" font-size="12.6" fill="#000" transform="translate(175.0 0) scale(1.07 1) translate(-175.0 0)">22.7 K</text>
<line x1="141.80" y1="608.40" x2="172.00" y2="608.40" stroke="#800000" stroke-width="0.75" />
<rect x="152.20" y="603.60" width="9.6" height="9.6" fill="#800000"/>
<text x="175.0" y="612.95" font-family="Liberation Sans, sans-serif" font-size="12.6" fill="#000" transform="translate(175.0 0) scale(1.07 1) translate(-175.0 0)">22.8K</text>
<line x1="141.80" y1="624.85" x2="172.00" y2="624.85" stroke="#008080" stroke-width="0.75" />
<rect x="152.20" y="620.05" width="9.6" height="9.6" fill="#008080"/>
<text x="175.0" y="629.40" font-family="Liberation Sans, sans-serif" font-size="12.6" fill="#000" transform="translate(175.0 0) scale(1.07 1) translate(-175.0 0)">22.9K</text>
<line x1="141.80" y1="641.30" x2="172.00" y2="641.30" stroke="#ff8000" stroke-width="0.75" />
<rect x="152.20" y="636.50" width="9.6" height="9.6" fill="#ff8000"/>
<text x="175.0" y="645.85" font-family="Liberation Sans, sans-serif" font-size="12.6" fill="#000" transform="translate(175.0 0) scale(1.07 1) translate(-175.0 0)">23K</text>
<line x1="141.80" y1="657.75" x2="172.00" y2="657.75" stroke="#808080" stroke-width="0.75" />
<rect x="152.20" y="652.95" width="9.6" height="9.6" fill="#808080"/>
<text x="175.0" y="662.30" font-family="Liberation Sans, sans-serif" font-size="12.6" fill="#000" transform="translate(175.0 0) scale(1.07 1) translate(-175.0 0)">23.1K</text>
<text x="0" y="313.40" font-family="Liberation Sans, sans-serif" font-size="23.3" text-anchor="end" fill="#000" transform="translate(124.6 0) scale(1.04 1)">0.0</text>
<text x="0" y="375.90" font-family="Liberation Sans, sans-serif" font-size="23.3" text-anchor="end" fill="#000" transform="translate(124.6 0) scale(1.04 1)">-0.1</text>
<text x="0" y="438.40" font-family="Liberation Sans, sans-serif" font-size="23.3" text-anchor="end" fill="#000" transform="translate(124.6 0) scale(1.04 1)">-0.2</text>
<text x="0" y="500.90" font-family="Liberation Sans, sans-serif" font-size="23.3" text-anchor="end" fill="#000" transform="translate(124.6 0) scale(1.04 1)">-0.3</text>
<text x="0" y="578.20" font-family="Liberation Sans, sans-serif" font-size="23.3" text-anchor="end" fill="#000" transform="translate(126.0 0) scale(1.04 1)">0.0</text>
<text x="0" y="628.67" font-family="Liberation Sans, sans-serif" font-size="23.3" text-anchor="end" fill="#000" transform="translate(126.0 0) scale(1.04 1)">-0.2</text>
<text x="0" y="679.14" font-family="Liberation Sans, sans-serif" font-size="23.3" text-anchor="end" fill="#000" transform="translate(126.0 0) scale(1.04 1)">-0.4</text>
<text x="0" y="729.61" font-family="Liberation Sans, sans-serif" font-size="23.3" text-anchor="end" fill="#000" transform="translate(126.0 0) scale(1.04 1)">-0.6</text>
<text x="178.12" y="270.5" font-family="Liberation Sans, sans-serif" font-size="24" fill="#000">10</text>
<text x="204.32" y="258.30" font-family="Liberation Sans, sans-serif" font-size="15" fill="#000">0</text>
<text x="268.90" y="270.5" font-family="Liberation Sans, sans-serif" font-size="24" fill="#000">10</text>
<text x="295.10" y="258.30" font-family="Liberation Sans, sans-serif" font-size="15" fill="#000">1</text>
<text x="359.68" y="270.5" font-family="Liberation Sans, sans-serif" font-size="24" fill="#000">10</text>
<text x="385.88" y="258.30" font-family="Liberation Sans, sans-serif" font-size="15" fill="#000">2</text>
<text x="450.46" y="270.5" font-family="Liberation Sans, sans-serif" font-size="24" fill="#000">10</text>
<text x="476.66" y="258.30" font-family="Liberation Sans, sans-serif" font-size="15" fill="#000">3</text>
<text x="112.75" y="753.2" font-family="Liberation Sans, sans-serif" font-size="24" fill="#000">10</text>
<text x="138.95" y="741.00" font-family="Liberation Sans, sans-serif" font-size="15" fill="#000">-3</text>
<text x="195.61" y="753.2" font-family="Liberation Sans, sans-serif" font-size="24" fill="#000">10</text>
<text x="221.81" y="741.00" font-family="Liberation Sans, sans-serif" font-size="15" fill="#000">-1</text>
<text x="280.97" y="753.2" font-family="Liberation Sans, sans-serif" font-size="24" fill="#000">10</text>
<text x="307.17" y="741.00" font-family="Liberation Sans, sans-serif" font-size="15" fill="#000">1</text>
<text x="363.84" y="753.2" font-family="Liberation Sans, sans-serif" font-size="24" fill="#000">10</text>
<text x="390.04" y="741.00" font-family="Liberation Sans, sans-serif" font-size="15" fill="#000">3</text>
<text x="446.70" y="753.2" font-family="Liberation Sans, sans-serif" font-size="24" fill="#000">10</text>
<text x="472.90" y="741.00" font-family="Liberation Sans, sans-serif" font-size="15" fill="#000">5</text>
<text x="0" y="240.8" font-family="Liberation Sans, sans-serif" font-size="23.6" text-anchor="middle" fill="#000" transform="translate(303.1 0) scale(1.057 1)">H (Oe)</text>
<text x="0" y="784.2" font-family="Liberation Sans, sans-serif" font-size="28.5" text-anchor="middle" fill="#000" transform="translate(296.2 0) scale(1.053 1)">H (Oe)</text>
<g transform="translate(61.0 617.0) rotate(-90) scale(1.064 1)"><text x="0" y="0" font-family="Liberation Sans, sans-serif" font-size="28" fill="#000">M<tspan font-size="15" dy="12">fl</tspan><tspan dy="-12">(emu/cm</tspan><tspan font-size="15" dy="-15.6">3</tspan><tspan dy="15.6">)</tspan></text></g>
<text x="0" y="321.0" font-family="Liberation Sans, sans-serif" font-size="29.5" fill="#000" transform="translate(138.9 0) scale(1.05 1)">(a)</text>
<text x="0" y="710.8" font-family="Liberation Sans, sans-serif" font-size="29.5" fill="#000" transform="translate(136.5 0) scale(1.045 1)">(b)</text>
</svg>
</body></html>
